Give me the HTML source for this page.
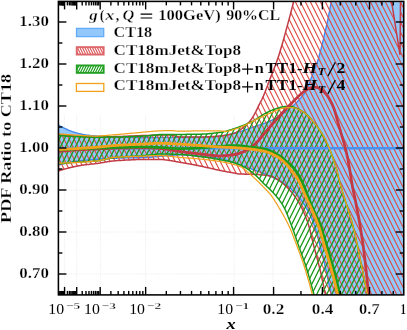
<!DOCTYPE html>
<html><head><meta charset="utf-8"><title>PDF ratio</title>
<style>
html,body{margin:0;padding:0;background:#fff;}
body{width:407px;height:330px;overflow:hidden;position:relative;font-family:"Liberation Serif",serif;}
svg text{font-family:"Liberation Serif",serif;}
</style></head><body>
<svg width="407" height="330" viewBox="0 0 407 330" style="position:absolute;left:0;top:0;will-change:transform">
<defs>
<clipPath id="cp"><rect x="58.4" y="1.4" width="345.4" height="293.5"/></clipPath>
</defs>
<line x1="64.55" y1="115" x2="64.55" y2="294.9" stroke="#dedede" stroke-width="0.7" stroke-dasharray="0.8 1.3"/>
<line x1="76.7" y1="115" x2="76.7" y2="294.9" stroke="#dedede" stroke-width="0.7" stroke-dasharray="0.8 1.3"/>
<line x1="100.4" y1="115" x2="100.4" y2="294.9" stroke="#dedede" stroke-width="0.7" stroke-dasharray="0.8 1.3"/>
<line x1="145.6" y1="115" x2="145.6" y2="294.9" stroke="#dedede" stroke-width="0.7" stroke-dasharray="0.8 1.3"/>
<line x1="234" y1="115" x2="234" y2="294.9" stroke="#dedede" stroke-width="0.7" stroke-dasharray="0.8 1.3"/>
<line x1="273" y1="115" x2="273" y2="294.9" stroke="#dedede" stroke-width="0.7" stroke-dasharray="0.8 1.3"/>
<line x1="322.3" y1="115" x2="322.3" y2="294.9" stroke="#dedede" stroke-width="0.7" stroke-dasharray="0.8 1.3"/>
<line x1="369.4" y1="115" x2="369.4" y2="294.9" stroke="#dedede" stroke-width="0.7" stroke-dasharray="0.8 1.3"/>
<line x1="58.4" y1="190" x2="403.75" y2="190" stroke="#dedede" stroke-width="0.7" stroke-dasharray="0.8 1.3"/>
<line x1="58.4" y1="232" x2="403.75" y2="232" stroke="#dedede" stroke-width="0.7" stroke-dasharray="0.8 1.3"/>
<line x1="58.4" y1="274" x2="403.75" y2="274" stroke="#dedede" stroke-width="0.7" stroke-dasharray="0.8 1.3"/>
<g clip-path="url(#cp)">
<path d="M58.5 124.9 L59.4 125.5 L60.2 126.0 L61.1 126.5 L62.0 127.0 L62.8 127.4 L63.7 127.9 L64.6 128.3 L65.4 128.7 L66.3 129.1 L67.2 129.5 L68.0 129.9 L68.9 130.3 L69.8 130.6 L70.6 130.9 L71.5 131.3 L72.4 131.6 L73.2 131.9 L74.1 132.1 L75.0 132.4 L75.8 132.6 L76.7 132.9 L77.6 133.1 L78.4 133.4 L79.3 133.6 L80.1 133.8 L81.0 134.0 L81.9 134.2 L82.7 134.4 L83.6 134.6 L84.5 134.7 L85.3 134.9 L86.2 135.0 L87.1 135.1 L87.9 135.2 L88.8 135.3 L89.7 135.4 L90.5 135.5 L91.4 135.6 L92.3 135.7 L93.1 135.8 L94.0 135.8 L94.9 135.9 L95.7 136.0 L96.6 136.0 L97.5 136.1 L98.3 136.2 L99.2 136.2 L100.1 136.3 L100.9 136.3 L101.8 136.4 L102.7 136.4 L103.5 136.5 L104.4 136.6 L105.3 136.6 L106.1 136.6 L107.0 136.7 L107.9 136.7 L108.7 136.8 L109.6 136.8 L110.5 136.8 L111.3 136.9 L112.2 136.9 L113.1 136.9 L113.9 137.0 L114.8 137.0 L115.7 137.0 L116.5 137.0 L117.4 137.1 L118.2 137.1 L119.1 137.1 L120.0 137.1 L120.8 137.1 L121.7 137.2 L122.6 137.2 L123.4 137.2 L124.3 137.2 L125.2 137.3 L126.0 137.3 L126.9 137.3 L127.8 137.3 L128.6 137.3 L129.5 137.3 L130.4 137.4 L131.2 137.4 L132.1 137.4 L133.0 137.4 L133.8 137.4 L134.7 137.4 L135.6 137.4 L136.4 137.4 L137.3 137.5 L138.2 137.5 L139.0 137.5 L139.9 137.5 L140.8 137.5 L141.6 137.5 L142.5 137.5 L143.4 137.5 L144.2 137.5 L145.1 137.5 L146.0 137.5 L146.8 137.5 L147.7 137.5 L148.6 137.5 L149.4 137.5 L150.3 137.5 L151.2 137.5 L152.0 137.5 L152.9 137.5 L153.8 137.5 L154.6 137.5 L155.5 137.5 L156.3 137.5 L157.2 137.5 L158.1 137.5 L158.9 137.5 L159.8 137.4 L160.7 137.4 L161.5 137.4 L162.4 137.4 L163.3 137.4 L164.1 137.4 L165.0 137.4 L165.9 137.4 L166.7 137.4 L167.6 137.4 L168.5 137.4 L169.3 137.4 L170.2 137.4 L171.1 137.4 L171.9 137.4 L172.8 137.4 L173.7 137.3 L174.5 137.3 L175.4 137.3 L176.3 137.3 L177.1 137.3 L178.0 137.3 L178.9 137.3 L179.7 137.3 L180.6 137.3 L181.5 137.3 L182.3 137.3 L183.2 137.3 L184.1 137.3 L184.9 137.3 L185.8 137.3 L186.7 137.3 L187.5 137.3 L188.4 137.2 L189.3 137.2 L190.1 137.2 L191.0 137.2 L191.9 137.2 L192.7 137.2 L193.6 137.2 L194.4 137.2 L195.3 137.2 L196.2 137.2 L197.0 137.2 L197.9 137.2 L198.8 137.2 L199.6 137.2 L200.5 137.1 L201.4 137.1 L202.2 137.1 L203.1 137.1 L204.0 137.1 L204.8 137.1 L205.7 137.1 L206.6 137.1 L207.4 137.0 L208.3 137.0 L209.2 137.0 L210.0 137.0 L210.9 137.0 L211.8 136.9 L212.6 136.9 L213.5 136.8 L214.4 136.7 L215.2 136.7 L216.1 136.6 L217.0 136.5 L217.8 136.4 L218.7 136.2 L219.6 136.1 L220.4 136.0 L221.3 135.9 L222.2 135.7 L223.0 135.6 L223.9 135.5 L224.8 135.3 L225.6 135.2 L226.5 135.0 L227.4 134.9 L228.2 134.7 L229.1 134.5 L230.0 134.3 L230.8 134.1 L231.7 133.9 L232.5 133.6 L233.4 133.4 L234.3 133.2 L235.1 132.9 L236.0 132.7 L236.9 132.4 L237.7 132.2 L238.6 131.9 L239.5 131.7 L240.3 131.4 L241.2 131.1 L242.1 130.9 L242.9 130.6 L243.8 130.3 L244.7 130.0 L245.5 129.7 L246.4 129.4 L247.3 129.1 L248.1 128.8 L249.0 128.5 L249.9 128.2 L250.7 127.9 L251.6 127.5 L252.5 127.2 L253.3 126.9 L254.2 126.6 L255.1 126.3 L255.9 126.0 L256.8 125.7 L257.7 125.4 L258.5 125.2 L259.4 124.9 L260.3 124.6 L261.1 124.4 L262.0 124.1 L262.9 123.8 L263.7 123.5 L264.6 123.2 L265.5 122.9 L266.3 122.6 L267.2 122.2 L268.1 121.9 L268.9 121.5 L269.8 121.1 L270.6 120.7 L271.5 120.3 L272.4 119.9 L273.2 119.4 L274.1 119.0 L275.0 118.5 L275.8 118.1 L276.7 117.6 L277.6 117.1 L278.4 116.6 L279.3 116.1 L280.2 115.5 L281.0 115.0 L281.9 114.4 L282.8 113.8 L283.6 113.2 L284.5 112.6 L285.4 112.0 L286.2 111.3 L287.1 110.7 L288.0 110.0 L288.8 109.3 L289.7 108.6 L290.6 107.9 L291.4 107.2 L292.3 106.4 L293.2 105.7 L294.0 104.9 L294.9 104.1 L295.8 103.2 L296.6 102.4 L297.5 101.5 L298.4 100.6 L299.2 99.6 L300.1 98.6 L301.0 97.7 L301.8 96.6 L302.7 95.6 L303.6 94.6 L304.4 93.5 L305.3 92.2 L306.2 90.6 L307.0 88.8 L307.9 86.8 L308.7 84.6 L309.6 82.4 L310.5 80.1 L311.3 77.8 L312.2 75.5 L313.1 73.3 L313.9 71.2 L314.8 69.0 L315.7 66.7 L316.5 64.3 L317.4 61.8 L318.3 59.1 L319.1 56.1 L320.0 52.9 L320.9 49.5 L321.7 46.1 L322.6 42.5 L323.5 38.9 L324.3 35.1 L325.2 31.3 L326.1 27.5 L326.9 23.7 L327.8 19.8 L328.7 15.7 L329.5 11.2 L330.4 6.4 L331.3 1.4 L332.1 -4.4 L333.0 -11.1 L333.9 -14.9 L334.7 -15.0 L335.6 -15.0 L336.5 -15.0 L337.3 -15.0 L338.2 -15.0 L339.1 -15.0 L339.9 -15.0 L340.8 -15.0 L341.7 -15.0 L342.5 -15.0 L343.4 -15.0 L344.3 -15.0 L345.1 -15.0 L346.0 -15.0 L346.8 -15.0 L347.7 -15.0 L348.6 -15.0 L349.4 -15.0 L350.3 -15.0 L351.2 -15.0 L352.0 -15.0 L352.9 -15.0 L353.8 -15.0 L354.6 -15.0 L355.5 -15.0 L356.4 -15.0 L357.2 -15.0 L358.1 -15.0 L359.0 -15.0 L359.8 -15.0 L360.7 -15.0 L361.6 -15.0 L362.4 -15.0 L363.3 -15.0 L364.2 -15.0 L365.0 -15.0 L365.9 -15.0 L366.8 -15.0 L367.6 -15.0 L368.5 -15.0 L369.4 -15.0 L370.2 -15.0 L371.1 -15.0 L372.0 -15.0 L372.8 -15.0 L373.7 -15.0 L374.6 -15.0 L375.4 -15.0 L376.3 -15.0 L377.2 -15.0 L378.0 -15.0 L378.9 -15.0 L379.8 -15.0 L380.6 -15.0 L381.5 -15.0 L382.4 -15.0 L383.2 -15.0 L384.1 -15.0 L384.9 -15.0 L385.8 -15.0 L386.7 -15.0 L387.5 -15.0 L388.4 -15.0 L389.3 -15.0 L390.1 -15.0 L391.0 -15.0 L391.9 -15.0 L392.7 -15.0 L393.6 -15.0 L394.5 -15.0 L395.3 -15.0 L396.2 -15.0 L397.1 -15.0 L397.9 -15.0 L398.8 -15.0 L399.7 -15.0 L400.5 -15.0 L401.4 -15.0 L402.3 -15.0 L403.1 -15.0 L404.0 -15.0 L404.0 305.0 L403.1 305.0 L402.3 305.0 L401.4 305.0 L400.5 305.0 L399.7 305.0 L398.8 305.0 L397.9 305.0 L397.1 305.0 L396.2 305.0 L395.3 305.0 L394.5 305.0 L393.6 305.0 L392.7 305.0 L391.9 305.0 L391.0 305.0 L390.1 305.0 L389.3 305.0 L388.4 305.0 L387.5 305.0 L386.7 305.0 L385.8 305.0 L384.9 305.0 L384.1 305.0 L383.2 305.0 L382.4 305.0 L381.5 305.0 L380.6 305.0 L379.8 305.0 L378.9 305.0 L378.0 305.0 L377.2 305.0 L376.3 305.0 L375.4 305.0 L374.6 305.0 L373.7 305.0 L372.8 305.0 L372.0 305.0 L371.1 305.0 L370.2 305.0 L369.4 305.0 L368.5 305.0 L367.6 305.0 L366.8 305.0 L365.9 305.0 L365.0 305.0 L364.2 305.0 L363.3 305.0 L362.4 305.0 L361.6 305.0 L360.7 305.0 L359.8 305.0 L359.0 305.0 L358.1 305.0 L357.2 305.0 L356.4 305.0 L355.5 305.0 L354.6 305.0 L353.8 305.0 L352.9 305.0 L352.0 305.0 L351.2 305.0 L350.3 305.0 L349.4 305.0 L348.6 305.0 L347.7 305.0 L346.8 305.0 L346.0 305.0 L345.1 305.0 L344.3 305.0 L343.4 305.0 L342.5 305.0 L341.7 305.0 L340.8 305.0 L339.9 305.0 L339.1 305.0 L338.2 305.0 L337.3 305.0 L336.5 305.0 L335.6 305.0 L334.7 305.0 L333.9 305.0 L333.0 303.7 L332.1 299.8 L331.3 294.9 L330.4 290.8 L329.5 286.8 L328.7 282.8 L327.8 278.7 L326.9 274.6 L326.1 270.7 L325.2 266.9 L324.3 263.2 L323.5 259.5 L322.6 255.9 L321.7 252.4 L320.9 249.0 L320.0 245.7 L319.1 242.3 L318.3 239.0 L317.4 235.8 L316.5 232.6 L315.7 229.6 L314.8 226.9 L313.9 224.3 L313.1 222.0 L312.2 219.9 L311.3 217.9 L310.5 216.0 L309.6 214.2 L308.7 212.5 L307.9 210.9 L307.0 209.3 L306.2 207.9 L305.3 206.4 L304.4 205.0 L303.6 203.7 L302.7 202.4 L301.8 201.1 L301.0 199.9 L300.1 198.7 L299.2 197.6 L298.4 196.5 L297.5 195.5 L296.6 194.6 L295.8 193.7 L294.9 192.8 L294.0 191.9 L293.2 191.0 L292.3 190.2 L291.4 189.3 L290.6 188.5 L289.7 187.8 L288.8 187.0 L288.0 186.3 L287.1 185.6 L286.2 185.0 L285.4 184.3 L284.5 183.8 L283.6 183.2 L282.8 182.6 L281.9 182.1 L281.0 181.6 L280.2 181.1 L279.3 180.6 L278.4 180.1 L277.6 179.7 L276.7 179.2 L275.8 178.8 L275.0 178.4 L274.1 178.0 L273.2 177.6 L272.4 177.1 L271.5 176.8 L270.6 176.4 L269.8 176.0 L268.9 175.6 L268.1 175.2 L267.2 174.9 L266.3 174.5 L265.5 174.2 L264.6 173.8 L263.7 173.5 L262.9 173.2 L262.0 172.9 L261.1 172.5 L260.3 172.2 L259.4 171.9 L258.5 171.6 L257.7 171.3 L256.8 171.0 L255.9 170.6 L255.1 170.3 L254.2 170.0 L253.3 169.7 L252.5 169.4 L251.6 169.0 L250.7 168.7 L249.9 168.4 L249.0 168.1 L248.1 167.8 L247.3 167.4 L246.4 167.1 L245.5 166.8 L244.7 166.5 L243.8 166.2 L242.9 165.9 L242.1 165.6 L241.2 165.2 L240.3 164.9 L239.5 164.6 L238.6 164.3 L237.7 164.0 L236.9 163.7 L236.0 163.3 L235.1 163.0 L234.3 162.8 L233.4 162.5 L232.5 162.2 L231.7 161.9 L230.8 161.6 L230.0 161.2 L229.1 160.9 L228.2 160.7 L227.4 160.4 L226.5 160.1 L225.6 159.8 L224.8 159.6 L223.9 159.3 L223.0 159.1 L222.2 158.9 L221.3 158.7 L220.4 158.6 L219.6 158.4 L218.7 158.3 L217.8 158.2 L217.0 158.1 L216.1 158.0 L215.2 157.9 L214.4 157.8 L213.5 157.7 L212.6 157.6 L211.8 157.5 L210.9 157.4 L210.0 157.3 L209.2 157.3 L208.3 157.2 L207.4 157.1 L206.6 157.1 L205.7 157.0 L204.8 156.9 L204.0 156.8 L203.1 156.8 L202.2 156.7 L201.4 156.6 L200.5 156.5 L199.6 156.5 L198.8 156.4 L197.9 156.3 L197.0 156.2 L196.2 156.1 L195.3 156.0 L194.4 155.9 L193.6 155.8 L192.7 155.7 L191.9 155.6 L191.0 155.5 L190.1 155.4 L189.3 155.3 L188.4 155.3 L187.5 155.2 L186.7 155.1 L185.8 155.0 L184.9 155.0 L184.1 154.9 L183.2 154.9 L182.3 154.8 L181.5 154.8 L180.6 154.8 L179.7 154.8 L178.9 154.8 L178.0 154.8 L177.1 154.9 L176.3 155.0 L175.4 155.0 L174.5 155.1 L173.7 155.2 L172.8 155.3 L171.9 155.3 L171.1 155.4 L170.2 155.5 L169.3 155.5 L168.5 155.6 L167.6 155.7 L166.7 155.8 L165.9 155.8 L165.0 155.9 L164.1 156.0 L163.3 156.1 L162.4 156.2 L161.5 156.2 L160.7 156.3 L159.8 156.4 L158.9 156.5 L158.1 156.6 L157.2 156.6 L156.3 156.7 L155.5 156.8 L154.6 156.9 L153.8 156.9 L152.9 157.0 L152.0 157.1 L151.2 157.2 L150.3 157.2 L149.4 157.3 L148.6 157.3 L147.7 157.4 L146.8 157.4 L146.0 157.5 L145.1 157.5 L144.2 157.5 L143.4 157.6 L142.5 157.6 L141.6 157.6 L140.8 157.6 L139.9 157.7 L139.0 157.7 L138.2 157.7 L137.3 157.7 L136.4 157.7 L135.6 157.8 L134.7 157.8 L133.8 157.8 L133.0 157.8 L132.1 157.8 L131.2 157.8 L130.4 157.9 L129.5 157.9 L128.6 157.9 L127.8 157.9 L126.9 157.9 L126.0 157.9 L125.2 157.9 L124.3 158.0 L123.4 158.0 L122.6 158.0 L121.7 158.0 L120.8 158.0 L120.0 158.1 L119.1 158.1 L118.2 158.1 L117.4 158.1 L116.5 158.2 L115.7 158.2 L114.8 158.2 L113.9 158.2 L113.1 158.3 L112.2 158.3 L111.3 158.3 L110.5 158.4 L109.6 158.4 L108.7 158.5 L107.9 158.5 L107.0 158.6 L106.1 158.6 L105.3 158.7 L104.4 158.7 L103.5 158.8 L102.7 158.8 L101.8 158.9 L100.9 158.9 L100.1 159.0 L99.2 159.1 L98.3 159.1 L97.5 159.2 L96.6 159.3 L95.7 159.3 L94.9 159.4 L94.0 159.5 L93.1 159.5 L92.3 159.6 L91.4 159.7 L90.5 159.7 L89.7 159.8 L88.8 159.9 L87.9 160.0 L87.1 160.1 L86.2 160.1 L85.3 160.2 L84.5 160.3 L83.6 160.4 L82.7 160.5 L81.9 160.6 L81.0 160.7 L80.1 160.8 L79.3 160.9 L78.4 161.0 L77.6 161.2 L76.7 161.3 L75.8 161.4 L75.0 161.5 L74.1 161.6 L73.2 161.8 L72.4 161.9 L71.5 162.1 L70.6 162.2 L69.8 162.4 L68.9 162.6 L68.0 162.7 L67.2 162.9 L66.3 163.1 L65.4 163.3 L64.6 163.5 L63.7 163.7 L62.8 163.9 L62.0 164.1 L61.1 164.3 L60.2 164.6 L59.4 164.8 L58.5 165.0Z" fill="#93c8fb" stroke="#4288ee" stroke-width="1.4"/>
<clipPath id="cr"><path d="M58.5 134.8 L59.1 134.9 L59.7 134.9 L60.3 134.9 L60.9 135.0 L61.5 135.0 L62.1 135.1 L62.7 135.1 L63.3 135.2 L63.9 135.2 L64.5 135.3 L65.1 135.3 L65.7 135.4 L66.3 135.4 L66.9 135.5 L67.5 135.5 L68.1 135.5 L68.7 135.6 L69.3 135.6 L69.9 135.7 L70.5 135.7 L71.1 135.8 L71.7 135.8 L72.3 135.8 L72.9 135.9 L73.5 135.9 L74.1 135.9 L74.7 136.0 L75.3 136.0 L75.9 136.1 L76.5 136.1 L77.1 136.1 L77.7 136.2 L78.3 136.2 L78.9 136.2 L79.5 136.3 L80.1 136.3 L80.7 136.4 L81.3 136.4 L81.9 136.4 L82.5 136.5 L83.1 136.5 L83.7 136.5 L84.3 136.6 L84.9 136.6 L85.5 136.6 L86.1 136.7 L86.7 136.7 L87.3 136.7 L87.9 136.8 L88.4 136.8 L89.0 136.8 L89.6 136.9 L90.2 136.9 L90.8 136.9 L91.4 136.9 L92.0 136.9 L92.6 137.0 L93.2 137.0 L93.8 137.0 L94.4 137.0 L95.0 137.0 L95.6 137.0 L96.2 137.0 L96.8 137.0 L97.4 137.0 L98.0 137.0 L98.6 137.0 L99.2 137.0 L99.8 137.0 L100.4 137.0 L101.0 137.0 L101.6 136.9 L102.2 136.9 L102.8 136.9 L103.4 136.9 L104.0 136.9 L104.6 136.9 L105.2 136.9 L105.8 136.9 L106.4 136.8 L107.0 136.8 L107.6 136.8 L108.2 136.8 L108.8 136.8 L109.4 136.8 L110.0 136.7 L110.6 136.7 L111.2 136.7 L111.8 136.7 L112.4 136.7 L113.0 136.7 L113.6 136.6 L114.2 136.6 L114.8 136.6 L115.4 136.6 L116.0 136.6 L116.6 136.6 L117.2 136.5 L117.8 136.5 L118.4 136.5 L119.0 136.5 L119.6 136.5 L120.2 136.4 L120.8 136.4 L121.4 136.4 L122.0 136.4 L122.6 136.4 L123.2 136.3 L123.8 136.3 L124.4 136.3 L125.0 136.3 L125.6 136.2 L126.2 136.2 L126.8 136.2 L127.4 136.2 L128.0 136.1 L128.6 136.1 L129.2 136.1 L129.8 136.1 L130.4 136.0 L131.0 136.0 L131.6 136.0 L132.2 136.0 L132.8 135.9 L133.4 135.9 L134.0 135.9 L134.6 135.9 L135.2 135.8 L135.8 135.8 L136.4 135.8 L137.0 135.8 L137.6 135.7 L138.2 135.7 L138.8 135.7 L139.4 135.7 L140.0 135.7 L140.6 135.6 L141.2 135.6 L141.8 135.6 L142.4 135.6 L143.0 135.6 L143.6 135.5 L144.2 135.5 L144.8 135.5 L145.4 135.5 L146.0 135.5 L146.6 135.5 L147.2 135.4 L147.8 135.4 L148.3 135.4 L148.9 135.4 L149.5 135.4 L150.1 135.4 L150.7 135.3 L151.3 135.3 L151.9 135.3 L152.5 135.3 L153.1 135.3 L153.7 135.3 L154.3 135.2 L154.9 135.2 L155.5 135.2 L156.1 135.2 L156.7 135.2 L157.3 135.2 L157.9 135.2 L158.5 135.1 L159.1 135.1 L159.7 135.1 L160.3 135.1 L160.9 135.1 L161.5 135.1 L162.1 135.1 L162.7 135.1 L163.3 135.1 L163.9 135.0 L164.5 135.0 L165.1 135.0 L165.7 135.0 L166.3 135.0 L166.9 135.0 L167.5 135.0 L168.1 135.0 L168.7 135.0 L169.3 135.0 L169.9 135.0 L170.5 135.0 L171.1 135.1 L171.7 135.2 L172.3 135.3 L172.9 135.4 L173.5 135.6 L174.1 135.7 L174.7 135.9 L175.3 136.1 L175.9 136.3 L176.5 136.4 L177.1 136.6 L177.7 136.7 L178.3 136.8 L178.9 136.9 L179.5 137.0 L180.1 137.0 L180.7 137.0 L181.3 137.0 L181.9 137.0 L182.5 137.0 L183.1 137.0 L183.7 137.0 L184.3 137.0 L184.9 137.0 L185.5 137.0 L186.1 137.0 L186.7 137.0 L187.3 137.0 L187.9 137.0 L188.5 137.0 L189.1 137.0 L189.7 137.0 L190.3 137.0 L190.9 137.0 L191.5 137.0 L192.1 137.0 L192.7 137.0 L193.3 137.0 L193.9 137.0 L194.5 137.0 L195.1 137.0 L195.7 137.0 L196.3 137.0 L196.9 137.0 L197.5 137.0 L198.1 137.0 L198.7 137.0 L199.3 137.0 L199.9 137.0 L200.5 137.0 L201.1 137.0 L201.7 137.0 L202.3 137.0 L202.9 137.0 L203.5 137.0 L204.1 136.9 L204.7 136.9 L205.3 136.9 L205.9 136.9 L206.5 136.9 L207.1 136.8 L207.7 136.8 L208.2 136.8 L208.8 136.8 L209.4 136.7 L210.0 136.7 L210.6 136.7 L211.2 136.6 L211.8 136.6 L212.4 136.6 L213.0 136.5 L213.6 136.5 L214.2 136.4 L214.8 136.4 L215.4 136.4 L216.0 136.3 L216.6 136.3 L217.2 136.2 L217.8 136.2 L218.4 136.1 L219.0 136.1 L219.6 136.0 L220.2 136.0 L220.8 135.9 L221.4 135.9 L222.0 135.8 L222.6 135.7 L223.2 135.7 L223.8 135.6 L224.4 135.5 L225.0 135.4 L225.6 135.3 L226.2 135.2 L226.8 135.1 L227.4 135.0 L228.0 134.8 L228.6 134.7 L229.2 134.6 L229.8 134.4 L230.4 134.3 L231.0 134.1 L231.6 134.0 L232.2 133.8 L232.8 133.7 L233.4 133.5 L234.0 133.3 L234.6 133.1 L235.2 132.9 L235.8 132.6 L236.4 132.3 L237.0 132.0 L237.6 131.6 L238.2 131.2 L238.8 130.8 L239.4 130.4 L240.0 130.0 L240.6 129.5 L241.2 129.0 L241.8 128.6 L242.4 128.1 L243.0 127.6 L243.6 127.1 L244.2 126.6 L244.8 126.1 L245.4 125.6 L246.0 125.1 L246.6 124.6 L247.2 124.0 L247.8 123.4 L248.4 122.8 L249.0 122.2 L249.6 121.5 L250.2 120.8 L250.8 120.0 L251.4 119.2 L252.0 118.3 L252.6 117.4 L253.2 116.4 L253.8 115.4 L254.4 114.3 L255.0 113.2 L255.6 112.1 L256.2 110.9 L256.8 109.7 L257.4 108.4 L258.0 107.2 L258.6 105.9 L259.2 104.7 L259.8 103.5 L260.4 102.3 L261.0 101.2 L261.6 100.0 L262.2 98.7 L262.8 97.4 L263.4 96.1 L264.0 94.6 L264.6 93.2 L265.2 91.7 L265.8 90.1 L266.4 88.6 L267.0 87.0 L267.6 85.4 L268.1 83.8 L268.7 82.3 L269.3 80.7 L269.9 79.1 L270.5 77.6 L271.1 76.1 L271.7 74.6 L272.3 73.1 L272.9 71.6 L273.5 70.1 L274.1 68.5 L274.7 67.0 L275.3 65.4 L275.9 63.8 L276.5 62.2 L277.1 60.5 L277.7 58.8 L278.3 57.0 L278.9 55.2 L279.5 53.3 L280.1 51.3 L280.7 49.3 L281.3 47.3 L281.9 45.3 L282.5 43.2 L283.1 41.1 L283.7 38.9 L284.3 36.8 L284.9 34.6 L285.5 32.4 L286.1 30.2 L286.7 28.0 L287.3 25.8 L287.9 23.6 L288.5 21.4 L289.1 19.2 L289.7 16.9 L290.3 14.6 L290.9 12.3 L291.5 10.0 L292.1 7.6 L292.7 5.2 L293.3 2.8 L293.9 0.4 L294.5 -2.1 L295.1 -4.6 L295.7 -7.1 L296.3 -9.7 L296.9 -12.4 L297.5 -15.0 L391.5 -15.0 L391.5 1.0 L400.0 55.0 L400.5 1.0 L400.5 -15.0 L404.5 -15.0 L404.5 305.0 L327.8 305.0 L327.1 302.0 L326.5 299.1 L325.8 296.1 L325.1 293.1 L324.4 290.0 L323.8 286.8 L323.1 283.6 L322.4 280.4 L321.7 277.2 L321.1 274.1 L320.4 271.1 L319.7 268.2 L319.0 265.5 L318.4 262.9 L317.7 260.3 L317.0 257.9 L316.3 255.4 L315.7 253.0 L315.0 250.5 L314.3 248.0 L313.6 245.3 L313.0 242.6 L312.3 239.8 L311.6 236.9 L310.9 234.1 L310.3 231.4 L309.6 228.8 L308.9 226.3 L308.2 224.1 L307.6 222.1 L306.9 220.1 L306.2 218.3 L305.5 216.5 L304.9 214.8 L304.2 213.2 L303.5 211.7 L302.8 210.2 L302.2 208.7 L301.5 207.3 L300.8 206.0 L300.1 204.7 L299.5 203.5 L298.8 202.3 L298.1 201.2 L297.4 200.1 L296.8 199.1 L296.1 198.1 L295.4 197.1 L294.7 196.2 L294.1 195.3 L293.4 194.4 L292.7 193.5 L292.0 192.7 L291.4 191.9 L290.7 191.2 L290.0 190.4 L289.3 189.7 L288.7 189.0 L288.0 188.2 L287.3 187.5 L286.6 186.9 L286.0 186.2 L285.3 185.6 L284.6 184.9 L283.9 184.3 L283.3 183.7 L282.6 183.2 L281.9 182.6 L281.2 182.1 L280.6 181.6 L279.9 181.1 L279.2 180.7 L278.5 180.2 L277.9 179.8 L277.2 179.4 L276.5 178.9 L275.8 178.5 L275.2 178.1 L274.5 177.7 L273.8 177.4 L273.1 177.0 L272.5 176.8 L271.8 176.5 L271.1 176.3 L270.4 176.1 L269.8 176.0 L269.1 175.8 L268.4 175.7 L267.7 175.6 L267.1 175.5 L266.4 175.4 L265.7 175.3 L265.0 175.2 L264.4 175.1 L263.7 175.1 L263.0 175.0 L262.3 174.9 L261.7 174.8 L261.0 174.8 L260.3 174.7 L259.6 174.7 L259.0 174.6 L258.3 174.6 L257.6 174.5 L256.9 174.5 L256.3 174.5 L255.6 174.4 L254.9 174.4 L254.2 174.4 L253.6 174.3 L252.9 174.3 L252.2 174.3 L251.5 174.3 L250.9 174.3 L250.2 174.3 L249.5 174.2 L248.8 174.2 L248.2 174.2 L247.5 174.2 L246.8 174.2 L246.1 174.2 L245.5 174.2 L244.8 174.2 L244.1 174.1 L243.4 174.1 L242.8 174.1 L242.1 174.1 L241.4 174.1 L240.7 174.0 L240.1 174.0 L239.4 174.0 L238.7 173.9 L238.0 173.8 L237.4 173.7 L236.7 173.5 L236.0 173.4 L235.3 173.3 L234.7 173.1 L234.0 173.0 L233.3 172.9 L232.6 172.8 L232.0 172.6 L231.3 172.5 L230.6 172.4 L229.9 172.3 L229.3 172.2 L228.6 172.0 L227.9 171.9 L227.2 171.8 L226.6 171.7 L225.9 171.5 L225.2 171.4 L224.5 171.3 L223.9 171.2 L223.2 171.0 L222.5 170.9 L221.8 170.8 L221.2 170.6 L220.5 170.5 L219.8 170.4 L219.1 170.2 L218.5 170.1 L217.8 169.9 L217.1 169.8 L216.4 169.7 L215.8 169.5 L215.1 169.4 L214.4 169.2 L213.7 169.1 L213.1 168.9 L212.4 168.7 L211.7 168.6 L211.0 168.4 L210.4 168.3 L209.7 168.1 L209.0 168.0 L208.3 167.8 L207.7 167.7 L207.0 167.5 L206.3 167.4 L205.6 167.2 L205.0 167.1 L204.3 166.9 L203.6 166.8 L202.9 166.6 L202.3 166.5 L201.6 166.3 L200.9 166.2 L200.2 166.0 L199.6 165.9 L198.9 165.8 L198.2 165.6 L197.5 165.5 L196.9 165.4 L196.2 165.2 L195.5 165.1 L194.8 165.0 L194.2 164.8 L193.5 164.7 L192.8 164.6 L192.1 164.5 L191.5 164.3 L190.8 164.2 L190.1 164.1 L189.4 163.9 L188.8 163.8 L188.1 163.7 L187.4 163.6 L186.7 163.4 L186.1 163.3 L185.4 163.2 L184.7 163.1 L184.0 163.0 L183.4 162.9 L182.7 162.7 L182.0 162.6 L181.3 162.5 L180.7 162.4 L180.0 162.3 L179.3 162.2 L178.6 162.1 L178.0 162.0 L177.3 161.8 L176.6 161.7 L175.9 161.6 L175.3 161.5 L174.6 161.3 L173.9 161.2 L173.2 161.1 L172.6 161.0 L171.9 160.8 L171.2 160.7 L170.5 160.6 L169.9 160.5 L169.2 160.4 L168.5 160.3 L167.8 160.2 L167.2 160.1 L166.5 160.0 L165.8 159.9 L165.1 159.8 L164.5 159.7 L163.8 159.7 L163.1 159.6 L162.4 159.6 L161.8 159.5 L161.1 159.5 L160.4 159.5 L159.7 159.5 L159.1 159.5 L158.4 159.5 L157.7 159.5 L157.0 159.5 L156.4 159.5 L155.7 159.5 L155.0 159.5 L154.3 159.5 L153.7 159.5 L153.0 159.5 L152.3 159.5 L151.6 159.5 L151.0 159.5 L150.3 159.5 L149.6 159.5 L148.9 159.5 L148.3 159.5 L147.6 159.5 L146.9 159.5 L146.2 159.5 L145.6 159.5 L144.9 159.5 L144.2 159.5 L143.5 159.5 L142.9 159.5 L142.2 159.5 L141.5 159.5 L140.8 159.5 L140.2 159.5 L139.5 159.6 L138.8 159.6 L138.1 159.6 L137.5 159.6 L136.8 159.6 L136.1 159.6 L135.4 159.7 L134.8 159.7 L134.1 159.7 L133.4 159.7 L132.7 159.8 L132.1 159.8 L131.4 159.8 L130.7 159.9 L130.0 159.9 L129.4 159.9 L128.7 160.0 L128.0 160.0 L127.3 160.0 L126.7 160.1 L126.0 160.1 L125.3 160.1 L124.6 160.2 L124.0 160.2 L123.3 160.3 L122.6 160.3 L121.9 160.3 L121.3 160.4 L120.6 160.4 L119.9 160.5 L119.2 160.5 L118.6 160.6 L117.9 160.6 L117.2 160.6 L116.5 160.7 L115.9 160.7 L115.2 160.8 L114.5 160.8 L113.8 160.9 L113.2 161.0 L112.5 161.0 L111.8 161.1 L111.1 161.2 L110.5 161.3 L109.8 161.4 L109.1 161.5 L108.4 161.6 L107.8 161.7 L107.1 161.8 L106.4 161.9 L105.7 162.0 L105.1 162.1 L104.4 162.3 L103.7 162.4 L103.0 162.5 L102.4 162.6 L101.7 162.7 L101.0 162.8 L100.3 163.0 L99.7 163.1 L99.0 163.2 L98.3 163.3 L97.6 163.4 L97.0 163.5 L96.3 163.6 L95.6 163.6 L94.9 163.7 L94.3 163.8 L93.6 163.9 L92.9 163.9 L92.2 164.0 L91.6 164.1 L90.9 164.1 L90.2 164.2 L89.5 164.3 L88.9 164.4 L88.2 164.4 L87.5 164.5 L86.8 164.6 L86.2 164.7 L85.5 164.7 L84.8 164.8 L84.1 164.9 L83.5 165.0 L82.8 165.1 L82.1 165.2 L81.4 165.3 L80.8 165.4 L80.1 165.5 L79.4 165.7 L78.7 165.8 L78.1 165.9 L77.4 166.0 L76.7 166.2 L76.0 166.3 L75.4 166.4 L74.7 166.6 L74.0 166.7 L73.3 166.9 L72.7 167.0 L72.0 167.2 L71.3 167.3 L70.6 167.5 L70.0 167.7 L69.3 167.8 L68.6 168.0 L67.9 168.2 L67.3 168.4 L66.6 168.6 L65.9 168.7 L65.2 168.9 L64.6 169.1 L63.9 169.3 L63.2 169.5 L62.5 169.7 L61.9 169.9 L61.2 170.1 L60.5 170.3 L59.8 170.6 L59.2 170.8 L58.5 171.0Z"/></clipPath>
<clipPath id="cg"><path d="M58.5 135.5 L59.3 135.6 L60.1 135.6 L60.8 135.7 L61.6 135.7 L62.4 135.8 L63.2 135.8 L64.0 135.9 L64.7 135.9 L65.5 136.0 L66.3 136.0 L67.1 136.1 L67.9 136.1 L68.6 136.2 L69.4 136.2 L70.2 136.3 L71.0 136.3 L71.8 136.3 L72.5 136.4 L73.3 136.4 L74.1 136.5 L74.9 136.5 L75.6 136.5 L76.4 136.6 L77.2 136.6 L78.0 136.6 L78.8 136.7 L79.5 136.7 L80.3 136.7 L81.1 136.8 L81.9 136.8 L82.7 136.8 L83.4 136.9 L84.2 136.9 L85.0 136.9 L85.8 137.0 L86.6 137.0 L87.3 137.0 L88.1 137.1 L88.9 137.1 L89.7 137.1 L90.5 137.1 L91.2 137.1 L92.0 137.2 L92.8 137.2 L93.6 137.2 L94.4 137.2 L95.1 137.2 L95.9 137.2 L96.7 137.2 L97.5 137.2 L98.3 137.2 L99.0 137.2 L99.8 137.2 L100.6 137.2 L101.4 137.2 L102.1 137.2 L102.9 137.2 L103.7 137.2 L104.5 137.1 L105.3 137.1 L106.0 137.1 L106.8 137.1 L107.6 137.1 L108.4 137.1 L109.2 137.1 L109.9 137.1 L110.7 137.1 L111.5 137.1 L112.3 137.0 L113.1 137.0 L113.8 137.0 L114.6 137.0 L115.4 137.0 L116.2 137.0 L117.0 137.0 L117.7 137.0 L118.5 136.9 L119.3 136.9 L120.1 136.9 L120.9 136.9 L121.6 136.9 L122.4 136.9 L123.2 136.8 L124.0 136.8 L124.8 136.8 L125.5 136.8 L126.3 136.8 L127.1 136.7 L127.9 136.7 L128.7 136.7 L129.4 136.7 L130.2 136.6 L131.0 136.6 L131.8 136.6 L132.5 136.5 L133.3 136.5 L134.1 136.5 L134.9 136.5 L135.7 136.4 L136.4 136.4 L137.2 136.4 L138.0 136.3 L138.8 136.3 L139.6 136.3 L140.3 136.2 L141.1 136.2 L141.9 136.2 L142.7 136.1 L143.5 136.1 L144.2 136.0 L145.0 136.0 L145.8 136.0 L146.6 135.9 L147.4 135.8 L148.1 135.7 L148.9 135.7 L149.7 135.6 L150.5 135.5 L151.3 135.4 L152.0 135.3 L152.8 135.2 L153.6 135.1 L154.4 135.0 L155.2 134.9 L155.9 134.9 L156.7 134.8 L157.5 134.7 L158.3 134.7 L159.0 134.6 L159.8 134.6 L160.6 134.6 L161.4 134.6 L162.2 134.6 L162.9 134.6 L163.7 134.5 L164.5 134.5 L165.3 134.5 L166.1 134.5 L166.8 134.5 L167.6 134.5 L168.4 134.5 L169.2 134.5 L170.0 134.5 L170.7 134.5 L171.5 134.5 L172.3 134.5 L173.1 134.5 L173.9 134.4 L174.6 134.4 L175.4 134.4 L176.2 134.4 L177.0 134.4 L177.8 134.4 L178.5 134.4 L179.3 134.4 L180.1 134.4 L180.9 134.4 L181.7 134.4 L182.4 134.4 L183.2 134.4 L184.0 134.4 L184.8 134.4 L185.6 134.4 L186.3 134.3 L187.1 134.3 L187.9 134.3 L188.7 134.3 L189.4 134.3 L190.2 134.3 L191.0 134.3 L191.8 134.3 L192.6 134.3 L193.3 134.3 L194.1 134.3 L194.9 134.3 L195.7 134.3 L196.5 134.3 L197.2 134.2 L198.0 134.2 L198.8 134.2 L199.6 134.2 L200.4 134.2 L201.1 134.2 L201.9 134.1 L202.7 134.1 L203.5 134.1 L204.3 134.0 L205.0 134.0 L205.8 133.9 L206.6 133.9 L207.4 133.8 L208.2 133.8 L208.9 133.7 L209.7 133.6 L210.5 133.6 L211.3 133.5 L212.1 133.4 L212.8 133.3 L213.6 133.2 L214.4 133.1 L215.2 133.0 L215.9 132.9 L216.7 132.8 L217.5 132.7 L218.3 132.6 L219.1 132.5 L219.8 132.4 L220.6 132.3 L221.4 132.2 L222.2 132.0 L223.0 131.9 L223.7 131.7 L224.5 131.6 L225.3 131.4 L226.1 131.2 L226.9 131.0 L227.6 130.7 L228.4 130.5 L229.2 130.3 L230.0 130.1 L230.8 129.8 L231.5 129.6 L232.3 129.3 L233.1 129.0 L233.9 128.8 L234.7 128.5 L235.4 128.2 L236.2 127.9 L237.0 127.7 L237.8 127.4 L238.6 127.1 L239.3 126.8 L240.1 126.6 L240.9 126.3 L241.7 126.0 L242.4 125.7 L243.2 125.4 L244.0 125.1 L244.8 124.8 L245.6 124.4 L246.3 124.1 L247.1 123.8 L247.9 123.4 L248.7 123.0 L249.5 122.7 L250.2 122.3 L251.0 121.9 L251.8 121.5 L252.6 121.2 L253.4 120.8 L254.1 120.4 L254.9 119.9 L255.7 119.5 L256.5 119.0 L257.3 118.5 L258.0 118.0 L258.8 117.5 L259.6 117.0 L260.4 116.4 L261.2 115.9 L261.9 115.3 L262.7 114.8 L263.5 114.3 L264.3 113.9 L265.1 113.5 L265.8 113.1 L266.6 112.6 L267.4 112.2 L268.2 111.9 L269.0 111.5 L269.7 111.1 L270.5 110.7 L271.3 110.4 L272.1 110.1 L272.8 109.8 L273.6 109.5 L274.4 109.2 L275.2 108.9 L276.0 108.7 L276.7 108.4 L277.5 108.2 L278.3 107.9 L279.1 107.7 L279.9 107.5 L280.6 107.3 L281.4 107.1 L282.2 106.9 L283.0 106.8 L283.8 106.7 L284.5 106.6 L285.3 106.5 L286.1 106.5 L286.9 106.4 L287.7 106.4 L288.4 106.3 L289.2 106.3 L290.0 106.3 L290.8 106.4 L291.6 106.5 L292.3 106.7 L293.1 107.0 L293.9 107.2 L294.7 107.5 L295.5 107.8 L296.2 108.1 L297.0 108.4 L297.8 108.8 L298.6 109.1 L299.3 109.5 L300.1 110.0 L300.9 110.4 L301.7 110.9 L302.5 111.4 L303.2 111.9 L304.0 112.4 L304.8 113.0 L305.6 113.5 L306.4 114.2 L307.1 114.9 L307.9 115.6 L308.7 116.4 L309.5 117.3 L310.3 118.1 L311.0 119.1 L311.8 120.0 L312.6 120.9 L313.4 121.9 L314.2 122.9 L314.9 123.8 L315.7 124.8 L316.5 125.8 L317.3 126.8 L318.1 127.8 L318.8 128.9 L319.6 130.0 L320.4 131.1 L321.2 132.3 L322.0 133.5 L322.7 134.8 L323.5 136.1 L324.3 137.5 L325.1 139.0 L325.9 140.6 L326.6 142.2 L327.4 143.9 L328.2 145.7 L329.0 147.5 L329.7 149.3 L330.5 151.3 L331.3 153.4 L332.1 155.6 L332.9 157.8 L333.6 160.1 L334.4 162.5 L335.2 164.9 L336.0 167.4 L336.8 170.1 L337.5 172.9 L338.3 176.3 L339.1 179.8 L339.9 182.9 L340.7 185.7 L341.4 188.3 L342.2 190.9 L343.0 193.4 L343.8 195.9 L344.6 198.3 L345.3 200.8 L346.1 203.3 L346.9 205.9 L347.7 208.4 L348.5 210.9 L349.2 213.3 L350.0 215.8 L350.8 218.4 L351.6 221.0 L352.4 223.8 L353.1 226.7 L353.9 229.8 L354.7 233.1 L355.5 236.6 L356.2 240.2 L357.0 243.9 L357.8 247.6 L358.6 251.4 L359.4 255.2 L360.1 258.9 L360.9 262.6 L361.7 266.4 L362.5 270.2 L363.3 274.1 L364.0 277.9 L364.8 281.8 L365.6 285.7 L366.4 289.5 L367.2 293.4 L367.9 297.3 L368.7 301.1 L369.5 305.0 L316.6 305.0 L316.0 302.4 L315.3 299.9 L314.7 297.4 L314.0 294.9 L313.4 292.5 L312.7 290.1 L312.1 287.7 L311.4 285.3 L310.8 282.9 L310.1 280.6 L309.5 278.3 L308.8 276.0 L308.2 273.8 L307.5 271.7 L306.9 269.5 L306.3 267.5 L305.6 265.5 L305.0 263.6 L304.3 261.7 L303.7 259.8 L303.0 258.0 L302.4 256.2 L301.7 254.4 L301.1 252.6 L300.4 250.8 L299.8 249.0 L299.1 247.2 L298.5 245.3 L297.8 243.5 L297.2 241.6 L296.5 239.7 L295.9 237.8 L295.3 236.0 L294.6 234.1 L294.0 232.3 L293.3 230.4 L292.7 228.6 L292.0 226.9 L291.4 225.2 L290.7 223.5 L290.1 221.8 L289.4 220.1 L288.8 218.4 L288.1 216.8 L287.5 215.1 L286.8 213.5 L286.2 212.0 L285.6 210.5 L284.9 209.2 L284.3 207.9 L283.6 206.7 L283.0 205.5 L282.3 204.4 L281.7 203.4 L281.0 202.4 L280.4 201.5 L279.7 200.6 L279.1 199.7 L278.4 198.8 L277.8 198.0 L277.1 197.2 L276.5 196.4 L275.8 195.6 L275.2 194.9 L274.6 194.2 L273.9 193.5 L273.3 192.8 L272.6 192.1 L272.0 191.5 L271.3 190.8 L270.7 190.2 L270.0 189.5 L269.4 188.9 L268.7 188.3 L268.1 187.6 L267.4 187.0 L266.8 186.4 L266.1 185.8 L265.5 185.2 L264.9 184.6 L264.2 184.0 L263.6 183.4 L262.9 182.7 L262.3 182.0 L261.6 181.4 L261.0 180.7 L260.3 180.0 L259.7 179.3 L259.0 178.6 L258.4 177.9 L257.7 177.3 L257.1 176.6 L256.4 176.0 L255.8 175.4 L255.1 174.8 L254.5 174.3 L253.9 173.7 L253.2 173.2 L252.6 172.7 L251.9 172.2 L251.3 171.7 L250.6 171.2 L250.0 170.7 L249.3 170.2 L248.7 169.8 L248.0 169.3 L247.4 168.9 L246.7 168.5 L246.1 168.1 L245.4 167.7 L244.8 167.4 L244.2 167.0 L243.5 166.7 L242.9 166.4 L242.2 166.0 L241.6 165.7 L240.9 165.4 L240.3 165.1 L239.6 164.8 L239.0 164.5 L238.3 164.2 L237.7 164.0 L237.0 163.7 L236.4 163.5 L235.7 163.3 L235.1 163.0 L234.4 162.8 L233.8 162.6 L233.2 162.5 L232.5 162.3 L231.9 162.1 L231.2 162.0 L230.6 161.8 L229.9 161.6 L229.3 161.5 L228.6 161.4 L228.0 161.2 L227.3 161.1 L226.7 161.0 L226.0 160.8 L225.4 160.7 L224.7 160.6 L224.1 160.5 L223.5 160.3 L222.8 160.2 L222.2 160.1 L221.5 160.0 L220.9 159.9 L220.2 159.7 L219.6 159.6 L218.9 159.5 L218.3 159.4 L217.6 159.3 L217.0 159.1 L216.3 159.0 L215.7 158.9 L215.0 158.8 L214.4 158.7 L213.7 158.6 L213.1 158.5 L212.5 158.4 L211.8 158.2 L211.2 158.1 L210.5 158.0 L209.9 157.9 L209.2 157.8 L208.6 157.7 L207.9 157.6 L207.3 157.5 L206.6 157.4 L206.0 157.3 L205.3 157.2 L204.7 157.1 L204.0 157.0 L203.4 156.9 L202.8 156.9 L202.1 156.8 L201.5 156.7 L200.8 156.6 L200.2 156.5 L199.5 156.4 L198.9 156.4 L198.2 156.3 L197.6 156.2 L196.9 156.1 L196.3 156.0 L195.6 156.0 L195.0 155.9 L194.3 155.8 L193.7 155.7 L193.0 155.6 L192.4 155.6 L191.8 155.5 L191.1 155.4 L190.5 155.3 L189.8 155.3 L189.2 155.2 L188.5 155.1 L187.9 155.1 L187.2 155.0 L186.6 154.9 L185.9 154.9 L185.3 154.8 L184.6 154.8 L184.0 154.7 L183.3 154.7 L182.7 154.6 L182.1 154.6 L181.4 154.6 L180.8 154.5 L180.1 154.5 L179.5 154.5 L178.8 154.5 L178.2 154.4 L177.5 154.4 L176.9 154.4 L176.2 154.4 L175.6 154.3 L174.9 154.3 L174.3 154.3 L173.6 154.3 L173.0 154.2 L172.3 154.2 L171.7 154.2 L171.1 154.2 L170.4 154.2 L169.8 154.1 L169.1 154.1 L168.5 154.1 L167.8 154.1 L167.2 154.1 L166.5 154.1 L165.9 154.1 L165.2 154.0 L164.6 154.0 L163.9 154.0 L163.3 154.0 L162.6 154.0 L162.0 154.0 L161.4 154.0 L160.7 154.0 L160.1 154.0 L159.4 154.0 L158.8 154.0 L158.1 154.0 L157.5 154.1 L156.8 154.1 L156.2 154.2 L155.5 154.2 L154.9 154.3 L154.2 154.4 L153.6 154.5 L152.9 154.5 L152.3 154.6 L151.6 154.7 L151.0 154.8 L150.4 154.9 L149.7 155.0 L149.1 155.1 L148.4 155.1 L147.8 155.2 L147.1 155.3 L146.5 155.4 L145.8 155.4 L145.2 155.5 L144.5 155.5 L143.9 155.6 L143.2 155.6 L142.6 155.7 L141.9 155.7 L141.3 155.8 L140.7 155.8 L140.0 155.9 L139.4 155.9 L138.7 155.9 L138.1 156.0 L137.4 156.0 L136.8 156.1 L136.1 156.1 L135.5 156.1 L134.8 156.2 L134.2 156.2 L133.5 156.2 L132.9 156.3 L132.2 156.3 L131.6 156.3 L130.9 156.4 L130.3 156.4 L129.7 156.4 L129.0 156.5 L128.4 156.5 L127.7 156.6 L127.1 156.6 L126.4 156.6 L125.8 156.7 L125.1 156.7 L124.5 156.7 L123.8 156.8 L123.2 156.8 L122.5 156.9 L121.9 156.9 L121.2 157.0 L120.6 157.0 L120.0 157.1 L119.3 157.1 L118.7 157.2 L118.0 157.2 L117.4 157.3 L116.7 157.3 L116.1 157.4 L115.4 157.5 L114.8 157.5 L114.1 157.6 L113.5 157.7 L112.8 157.8 L112.2 157.9 L111.5 158.0 L110.9 158.1 L110.2 158.2 L109.6 158.4 L109.0 158.5 L108.3 158.6 L107.7 158.8 L107.0 158.9 L106.4 159.1 L105.7 159.2 L105.1 159.4 L104.4 159.5 L103.8 159.7 L103.1 159.8 L102.5 159.9 L101.8 160.1 L101.2 160.2 L100.5 160.3 L99.9 160.5 L99.3 160.6 L98.6 160.7 L98.0 160.8 L97.3 160.9 L96.7 160.9 L96.0 161.0 L95.4 161.1 L94.7 161.1 L94.1 161.2 L93.4 161.2 L92.8 161.3 L92.1 161.3 L91.5 161.4 L90.8 161.4 L90.2 161.4 L89.5 161.5 L88.9 161.5 L88.3 161.5 L87.6 161.6 L87.0 161.6 L86.3 161.6 L85.7 161.7 L85.0 161.7 L84.4 161.7 L83.7 161.8 L83.1 161.8 L82.4 161.8 L81.8 161.9 L81.1 161.9 L80.5 161.9 L79.8 162.0 L79.2 162.0 L78.6 162.1 L77.9 162.1 L77.3 162.1 L76.6 162.2 L76.0 162.2 L75.3 162.3 L74.7 162.3 L74.0 162.4 L73.4 162.4 L72.7 162.5 L72.1 162.5 L71.4 162.6 L70.8 162.7 L70.1 162.7 L69.5 162.8 L68.8 162.8 L68.2 162.9 L67.6 163.0 L66.9 163.0 L66.3 163.1 L65.6 163.2 L65.0 163.3 L64.3 163.3 L63.7 163.4 L63.0 163.5 L62.4 163.5 L61.7 163.6 L61.1 163.7 L60.4 163.8 L59.8 163.8 L59.1 163.9 L58.5 164.0Z"/></clipPath>
<g clip-path="url(#cr)"><path d="M-118.05 -5L34.45 300M-113.05 -5L39.45 300M-108.05 -5L44.45 300M-103.05 -5L49.45 300M-98.05 -5L54.45 300M-93.05 -5L59.45 300M-88.05 -5L64.45 300M-83.05 -5L69.45 300M-78.05 -5L74.45 300M-73.05 -5L79.45 300M-68.05 -5L84.45 300M-63.05 -5L89.45 300M-58.05 -5L94.45 300M-53.05 -5L99.45 300M-48.05 -5L104.45 300M-43.05 -5L109.45 300M-38.05 -5L114.45 300M-33.05 -5L119.45 300M-28.05 -5L124.45 300M-23.05 -5L129.45 300M-18.05 -5L134.45 300M-13.05 -5L139.45 300M-8.05 -5L144.45 300M-3.05 -5L149.45 300M1.95 -5L154.45 300M6.95 -5L159.45 300M11.95 -5L164.45 300M16.95 -5L169.45 300M21.95 -5L174.45 300M26.95 -5L179.45 300M31.95 -5L184.45 300M36.95 -5L189.45 300M41.95 -5L194.45 300M46.95 -5L199.45 300M51.95 -5L204.45 300M56.95 -5L209.45 300M61.95 -5L214.45 300M66.95 -5L219.45 300M71.95 -5L224.45 300M76.95 -5L229.45 300M81.95 -5L234.45 300M86.95 -5L239.45 300M91.95 -5L244.45 300M96.95 -5L249.45 300M101.95 -5L254.45 300M106.95 -5L259.45 300M111.95 -5L264.45 300M116.95 -5L269.45 300M121.95 -5L274.45 300M126.95 -5L279.45 300M131.95 -5L284.45 300M136.95 -5L289.45 300M141.95 -5L294.45 300M146.95 -5L299.45 300M151.95 -5L304.45 300M156.95 -5L309.45 300M161.95 -5L314.45 300M166.95 -5L319.45 300M171.95 -5L324.45 300M176.95 -5L329.45 300M181.95 -5L334.45 300M186.95 -5L339.45 300M191.95 -5L344.45 300M196.95 -5L349.45 300M201.95 -5L354.45 300M206.95 -5L359.45 300M211.95 -5L364.45 300M216.95 -5L369.45 300M221.95 -5L374.45 300M226.95 -5L379.45 300M231.95 -5L384.45 300M236.95 -5L389.45 300M241.95 -5L394.45 300M246.95 -5L399.45 300M251.95 -5L404.45 300M256.95 -5L409.45 300M261.95 -5L414.45 300M266.95 -5L419.45 300M271.95 -5L424.45 300M276.95 -5L429.45 300M281.95 -5L434.45 300M286.95 -5L439.45 300M291.95 -5L444.45 300M296.95 -5L449.45 300M301.95 -5L454.45 300M306.95 -5L459.45 300M311.95 -5L464.45 300M316.95 -5L469.45 300M321.95 -5L474.45 300M326.95 -5L479.45 300M331.95 -5L484.45 300M336.95 -5L489.45 300M341.95 -5L494.45 300M346.95 -5L499.45 300M351.95 -5L504.45 300M356.95 -5L509.45 300M361.95 -5L514.45 300M366.95 -5L519.45 300M371.95 -5L524.45 300M376.95 -5L529.45 300M381.95 -5L534.45 300M386.95 -5L539.45 300M391.95 -5L544.45 300M396.95 -5L549.45 300M401.95 -5L554.45 300M406.95 -5L559.45 300M411.95 -5L564.45 300M416.95 -5L569.45 300" stroke="#de4a42" stroke-width="1.1" fill="none"/></g>
<path d="M58.5 134.8 L59.1 134.9 L59.7 134.9 L60.3 134.9 L60.9 135.0 L61.5 135.0 L62.1 135.1 L62.7 135.1 L63.3 135.2 L63.9 135.2 L64.5 135.3 L65.1 135.3 L65.7 135.4 L66.3 135.4 L66.9 135.5 L67.5 135.5 L68.1 135.5 L68.7 135.6 L69.3 135.6 L69.9 135.7 L70.5 135.7 L71.1 135.8 L71.7 135.8 L72.3 135.8 L72.9 135.9 L73.5 135.9 L74.1 135.9 L74.7 136.0 L75.3 136.0 L75.9 136.1 L76.5 136.1 L77.1 136.1 L77.7 136.2 L78.3 136.2 L78.9 136.2 L79.5 136.3 L80.1 136.3 L80.7 136.4 L81.3 136.4 L81.9 136.4 L82.5 136.5 L83.1 136.5 L83.7 136.5 L84.3 136.6 L84.9 136.6 L85.5 136.6 L86.1 136.7 L86.7 136.7 L87.3 136.7 L87.9 136.8 L88.4 136.8 L89.0 136.8 L89.6 136.9 L90.2 136.9 L90.8 136.9 L91.4 136.9 L92.0 136.9 L92.6 137.0 L93.2 137.0 L93.8 137.0 L94.4 137.0 L95.0 137.0 L95.6 137.0 L96.2 137.0 L96.8 137.0 L97.4 137.0 L98.0 137.0 L98.6 137.0 L99.2 137.0 L99.8 137.0 L100.4 137.0 L101.0 137.0 L101.6 136.9 L102.2 136.9 L102.8 136.9 L103.4 136.9 L104.0 136.9 L104.6 136.9 L105.2 136.9 L105.8 136.9 L106.4 136.8 L107.0 136.8 L107.6 136.8 L108.2 136.8 L108.8 136.8 L109.4 136.8 L110.0 136.7 L110.6 136.7 L111.2 136.7 L111.8 136.7 L112.4 136.7 L113.0 136.7 L113.6 136.6 L114.2 136.6 L114.8 136.6 L115.4 136.6 L116.0 136.6 L116.6 136.6 L117.2 136.5 L117.8 136.5 L118.4 136.5 L119.0 136.5 L119.6 136.5 L120.2 136.4 L120.8 136.4 L121.4 136.4 L122.0 136.4 L122.6 136.4 L123.2 136.3 L123.8 136.3 L124.4 136.3 L125.0 136.3 L125.6 136.2 L126.2 136.2 L126.8 136.2 L127.4 136.2 L128.0 136.1 L128.6 136.1 L129.2 136.1 L129.8 136.1 L130.4 136.0 L131.0 136.0 L131.6 136.0 L132.2 136.0 L132.8 135.9 L133.4 135.9 L134.0 135.9 L134.6 135.9 L135.2 135.8 L135.8 135.8 L136.4 135.8 L137.0 135.8 L137.6 135.7 L138.2 135.7 L138.8 135.7 L139.4 135.7 L140.0 135.7 L140.6 135.6 L141.2 135.6 L141.8 135.6 L142.4 135.6 L143.0 135.6 L143.6 135.5 L144.2 135.5 L144.8 135.5 L145.4 135.5 L146.0 135.5 L146.6 135.5 L147.2 135.4 L147.8 135.4 L148.3 135.4 L148.9 135.4 L149.5 135.4 L150.1 135.4 L150.7 135.3 L151.3 135.3 L151.9 135.3 L152.5 135.3 L153.1 135.3 L153.7 135.3 L154.3 135.2 L154.9 135.2 L155.5 135.2 L156.1 135.2 L156.7 135.2 L157.3 135.2 L157.9 135.2 L158.5 135.1 L159.1 135.1 L159.7 135.1 L160.3 135.1 L160.9 135.1 L161.5 135.1 L162.1 135.1 L162.7 135.1 L163.3 135.1 L163.9 135.0 L164.5 135.0 L165.1 135.0 L165.7 135.0 L166.3 135.0 L166.9 135.0 L167.5 135.0 L168.1 135.0 L168.7 135.0 L169.3 135.0 L169.9 135.0 L170.5 135.0 L171.1 135.1 L171.7 135.2 L172.3 135.3 L172.9 135.4 L173.5 135.6 L174.1 135.7 L174.7 135.9 L175.3 136.1 L175.9 136.3 L176.5 136.4 L177.1 136.6 L177.7 136.7 L178.3 136.8 L178.9 136.9 L179.5 137.0 L180.1 137.0 L180.7 137.0 L181.3 137.0 L181.9 137.0 L182.5 137.0 L183.1 137.0 L183.7 137.0 L184.3 137.0 L184.9 137.0 L185.5 137.0 L186.1 137.0 L186.7 137.0 L187.3 137.0 L187.9 137.0 L188.5 137.0 L189.1 137.0 L189.7 137.0 L190.3 137.0 L190.9 137.0 L191.5 137.0 L192.1 137.0 L192.7 137.0 L193.3 137.0 L193.9 137.0 L194.5 137.0 L195.1 137.0 L195.7 137.0 L196.3 137.0 L196.9 137.0 L197.5 137.0 L198.1 137.0 L198.7 137.0 L199.3 137.0 L199.9 137.0 L200.5 137.0 L201.1 137.0 L201.7 137.0 L202.3 137.0 L202.9 137.0 L203.5 137.0 L204.1 136.9 L204.7 136.9 L205.3 136.9 L205.9 136.9 L206.5 136.9 L207.1 136.8 L207.7 136.8 L208.2 136.8 L208.8 136.8 L209.4 136.7 L210.0 136.7 L210.6 136.7 L211.2 136.6 L211.8 136.6 L212.4 136.6 L213.0 136.5 L213.6 136.5 L214.2 136.4 L214.8 136.4 L215.4 136.4 L216.0 136.3 L216.6 136.3 L217.2 136.2 L217.8 136.2 L218.4 136.1 L219.0 136.1 L219.6 136.0 L220.2 136.0 L220.8 135.9 L221.4 135.9 L222.0 135.8 L222.6 135.7 L223.2 135.7 L223.8 135.6 L224.4 135.5 L225.0 135.4 L225.6 135.3 L226.2 135.2 L226.8 135.1 L227.4 135.0 L228.0 134.8 L228.6 134.7 L229.2 134.6 L229.8 134.4 L230.4 134.3 L231.0 134.1 L231.6 134.0 L232.2 133.8 L232.8 133.7 L233.4 133.5 L234.0 133.3 L234.6 133.1 L235.2 132.9 L235.8 132.6 L236.4 132.3 L237.0 132.0 L237.6 131.6 L238.2 131.2 L238.8 130.8 L239.4 130.4 L240.0 130.0 L240.6 129.5 L241.2 129.0 L241.8 128.6 L242.4 128.1 L243.0 127.6 L243.6 127.1 L244.2 126.6 L244.8 126.1 L245.4 125.6 L246.0 125.1 L246.6 124.6 L247.2 124.0 L247.8 123.4 L248.4 122.8 L249.0 122.2 L249.6 121.5 L250.2 120.8 L250.8 120.0 L251.4 119.2 L252.0 118.3 L252.6 117.4 L253.2 116.4 L253.8 115.4 L254.4 114.3 L255.0 113.2 L255.6 112.1 L256.2 110.9 L256.8 109.7 L257.4 108.4 L258.0 107.2 L258.6 105.9 L259.2 104.7 L259.8 103.5 L260.4 102.3 L261.0 101.2 L261.6 100.0 L262.2 98.7 L262.8 97.4 L263.4 96.1 L264.0 94.6 L264.6 93.2 L265.2 91.7 L265.8 90.1 L266.4 88.6 L267.0 87.0 L267.6 85.4 L268.1 83.8 L268.7 82.3 L269.3 80.7 L269.9 79.1 L270.5 77.6 L271.1 76.1 L271.7 74.6 L272.3 73.1 L272.9 71.6 L273.5 70.1 L274.1 68.5 L274.7 67.0 L275.3 65.4 L275.9 63.8 L276.5 62.2 L277.1 60.5 L277.7 58.8 L278.3 57.0 L278.9 55.2 L279.5 53.3 L280.1 51.3 L280.7 49.3 L281.3 47.3 L281.9 45.3 L282.5 43.2 L283.1 41.1 L283.7 38.9 L284.3 36.8 L284.9 34.6 L285.5 32.4 L286.1 30.2 L286.7 28.0 L287.3 25.8 L287.9 23.6 L288.5 21.4 L289.1 19.2 L289.7 16.9 L290.3 14.6 L290.9 12.3 L291.5 10.0 L292.1 7.6 L292.7 5.2 L293.3 2.8 L293.9 0.4 L294.5 -2.1 L295.1 -4.6 L295.7 -7.1 L296.3 -9.7 L296.9 -12.4 L297.5 -15.0 L391.5 -15.0 L391.5 1.0 L400.0 55.0 L400.5 1.0 L400.5 -15.0 L404.5 -15.0 L404.5 305.0 L327.8 305.0 L327.1 302.0 L326.5 299.1 L325.8 296.1 L325.1 293.1 L324.4 290.0 L323.8 286.8 L323.1 283.6 L322.4 280.4 L321.7 277.2 L321.1 274.1 L320.4 271.1 L319.7 268.2 L319.0 265.5 L318.4 262.9 L317.7 260.3 L317.0 257.9 L316.3 255.4 L315.7 253.0 L315.0 250.5 L314.3 248.0 L313.6 245.3 L313.0 242.6 L312.3 239.8 L311.6 236.9 L310.9 234.1 L310.3 231.4 L309.6 228.8 L308.9 226.3 L308.2 224.1 L307.6 222.1 L306.9 220.1 L306.2 218.3 L305.5 216.5 L304.9 214.8 L304.2 213.2 L303.5 211.7 L302.8 210.2 L302.2 208.7 L301.5 207.3 L300.8 206.0 L300.1 204.7 L299.5 203.5 L298.8 202.3 L298.1 201.2 L297.4 200.1 L296.8 199.1 L296.1 198.1 L295.4 197.1 L294.7 196.2 L294.1 195.3 L293.4 194.4 L292.7 193.5 L292.0 192.7 L291.4 191.9 L290.7 191.2 L290.0 190.4 L289.3 189.7 L288.7 189.0 L288.0 188.2 L287.3 187.5 L286.6 186.9 L286.0 186.2 L285.3 185.6 L284.6 184.9 L283.9 184.3 L283.3 183.7 L282.6 183.2 L281.9 182.6 L281.2 182.1 L280.6 181.6 L279.9 181.1 L279.2 180.7 L278.5 180.2 L277.9 179.8 L277.2 179.4 L276.5 178.9 L275.8 178.5 L275.2 178.1 L274.5 177.7 L273.8 177.4 L273.1 177.0 L272.5 176.8 L271.8 176.5 L271.1 176.3 L270.4 176.1 L269.8 176.0 L269.1 175.8 L268.4 175.7 L267.7 175.6 L267.1 175.5 L266.4 175.4 L265.7 175.3 L265.0 175.2 L264.4 175.1 L263.7 175.1 L263.0 175.0 L262.3 174.9 L261.7 174.8 L261.0 174.8 L260.3 174.7 L259.6 174.7 L259.0 174.6 L258.3 174.6 L257.6 174.5 L256.9 174.5 L256.3 174.5 L255.6 174.4 L254.9 174.4 L254.2 174.4 L253.6 174.3 L252.9 174.3 L252.2 174.3 L251.5 174.3 L250.9 174.3 L250.2 174.3 L249.5 174.2 L248.8 174.2 L248.2 174.2 L247.5 174.2 L246.8 174.2 L246.1 174.2 L245.5 174.2 L244.8 174.2 L244.1 174.1 L243.4 174.1 L242.8 174.1 L242.1 174.1 L241.4 174.1 L240.7 174.0 L240.1 174.0 L239.4 174.0 L238.7 173.9 L238.0 173.8 L237.4 173.7 L236.7 173.5 L236.0 173.4 L235.3 173.3 L234.7 173.1 L234.0 173.0 L233.3 172.9 L232.6 172.8 L232.0 172.6 L231.3 172.5 L230.6 172.4 L229.9 172.3 L229.3 172.2 L228.6 172.0 L227.9 171.9 L227.2 171.8 L226.6 171.7 L225.9 171.5 L225.2 171.4 L224.5 171.3 L223.9 171.2 L223.2 171.0 L222.5 170.9 L221.8 170.8 L221.2 170.6 L220.5 170.5 L219.8 170.4 L219.1 170.2 L218.5 170.1 L217.8 169.9 L217.1 169.8 L216.4 169.7 L215.8 169.5 L215.1 169.4 L214.4 169.2 L213.7 169.1 L213.1 168.9 L212.4 168.7 L211.7 168.6 L211.0 168.4 L210.4 168.3 L209.7 168.1 L209.0 168.0 L208.3 167.8 L207.7 167.7 L207.0 167.5 L206.3 167.4 L205.6 167.2 L205.0 167.1 L204.3 166.9 L203.6 166.8 L202.9 166.6 L202.3 166.5 L201.6 166.3 L200.9 166.2 L200.2 166.0 L199.6 165.9 L198.9 165.8 L198.2 165.6 L197.5 165.5 L196.9 165.4 L196.2 165.2 L195.5 165.1 L194.8 165.0 L194.2 164.8 L193.5 164.7 L192.8 164.6 L192.1 164.5 L191.5 164.3 L190.8 164.2 L190.1 164.1 L189.4 163.9 L188.8 163.8 L188.1 163.7 L187.4 163.6 L186.7 163.4 L186.1 163.3 L185.4 163.2 L184.7 163.1 L184.0 163.0 L183.4 162.9 L182.7 162.7 L182.0 162.6 L181.3 162.5 L180.7 162.4 L180.0 162.3 L179.3 162.2 L178.6 162.1 L178.0 162.0 L177.3 161.8 L176.6 161.7 L175.9 161.6 L175.3 161.5 L174.6 161.3 L173.9 161.2 L173.2 161.1 L172.6 161.0 L171.9 160.8 L171.2 160.7 L170.5 160.6 L169.9 160.5 L169.2 160.4 L168.5 160.3 L167.8 160.2 L167.2 160.1 L166.5 160.0 L165.8 159.9 L165.1 159.8 L164.5 159.7 L163.8 159.7 L163.1 159.6 L162.4 159.6 L161.8 159.5 L161.1 159.5 L160.4 159.5 L159.7 159.5 L159.1 159.5 L158.4 159.5 L157.7 159.5 L157.0 159.5 L156.4 159.5 L155.7 159.5 L155.0 159.5 L154.3 159.5 L153.7 159.5 L153.0 159.5 L152.3 159.5 L151.6 159.5 L151.0 159.5 L150.3 159.5 L149.6 159.5 L148.9 159.5 L148.3 159.5 L147.6 159.5 L146.9 159.5 L146.2 159.5 L145.6 159.5 L144.9 159.5 L144.2 159.5 L143.5 159.5 L142.9 159.5 L142.2 159.5 L141.5 159.5 L140.8 159.5 L140.2 159.5 L139.5 159.6 L138.8 159.6 L138.1 159.6 L137.5 159.6 L136.8 159.6 L136.1 159.6 L135.4 159.7 L134.8 159.7 L134.1 159.7 L133.4 159.7 L132.7 159.8 L132.1 159.8 L131.4 159.8 L130.7 159.9 L130.0 159.9 L129.4 159.9 L128.7 160.0 L128.0 160.0 L127.3 160.0 L126.7 160.1 L126.0 160.1 L125.3 160.1 L124.6 160.2 L124.0 160.2 L123.3 160.3 L122.6 160.3 L121.9 160.3 L121.3 160.4 L120.6 160.4 L119.9 160.5 L119.2 160.5 L118.6 160.6 L117.9 160.6 L117.2 160.6 L116.5 160.7 L115.9 160.7 L115.2 160.8 L114.5 160.8 L113.8 160.9 L113.2 161.0 L112.5 161.0 L111.8 161.1 L111.1 161.2 L110.5 161.3 L109.8 161.4 L109.1 161.5 L108.4 161.6 L107.8 161.7 L107.1 161.8 L106.4 161.9 L105.7 162.0 L105.1 162.1 L104.4 162.3 L103.7 162.4 L103.0 162.5 L102.4 162.6 L101.7 162.7 L101.0 162.8 L100.3 163.0 L99.7 163.1 L99.0 163.2 L98.3 163.3 L97.6 163.4 L97.0 163.5 L96.3 163.6 L95.6 163.6 L94.9 163.7 L94.3 163.8 L93.6 163.9 L92.9 163.9 L92.2 164.0 L91.6 164.1 L90.9 164.1 L90.2 164.2 L89.5 164.3 L88.9 164.4 L88.2 164.4 L87.5 164.5 L86.8 164.6 L86.2 164.7 L85.5 164.7 L84.8 164.8 L84.1 164.9 L83.5 165.0 L82.8 165.1 L82.1 165.2 L81.4 165.3 L80.8 165.4 L80.1 165.5 L79.4 165.7 L78.7 165.8 L78.1 165.9 L77.4 166.0 L76.7 166.2 L76.0 166.3 L75.4 166.4 L74.7 166.6 L74.0 166.7 L73.3 166.9 L72.7 167.0 L72.0 167.2 L71.3 167.3 L70.6 167.5 L70.0 167.7 L69.3 167.8 L68.6 168.0 L67.9 168.2 L67.3 168.4 L66.6 168.6 L65.9 168.7 L65.2 168.9 L64.6 169.1 L63.9 169.3 L63.2 169.5 L62.5 169.7 L61.9 169.9 L61.2 170.1 L60.5 170.3 L59.8 170.6 L59.2 170.8 L58.5 171.0Z" fill="none" stroke="#c23c46" stroke-width="1.5"/>
<g clip-path="url(#cr)"></g>
<g clip-path="url(#cg)"><path d="M41.40 -5L-111.10 300M46.40 -5L-106.10 300M51.40 -5L-101.10 300M56.40 -5L-96.10 300M61.40 -5L-91.10 300M66.40 -5L-86.10 300M71.40 -5L-81.10 300M76.40 -5L-76.10 300M81.40 -5L-71.10 300M86.40 -5L-66.10 300M91.40 -5L-61.10 300M96.40 -5L-56.10 300M101.40 -5L-51.10 300M106.40 -5L-46.10 300M111.40 -5L-41.10 300M116.40 -5L-36.10 300M121.40 -5L-31.10 300M126.40 -5L-26.10 300M131.40 -5L-21.10 300M136.40 -5L-16.10 300M141.40 -5L-11.10 300M146.40 -5L-6.10 300M151.40 -5L-1.10 300M156.40 -5L3.90 300M161.40 -5L8.90 300M166.40 -5L13.90 300M171.40 -5L18.90 300M176.40 -5L23.90 300M181.40 -5L28.90 300M186.40 -5L33.90 300M191.40 -5L38.90 300M196.40 -5L43.90 300M201.40 -5L48.90 300M206.40 -5L53.90 300M211.40 -5L58.90 300M216.40 -5L63.90 300M221.40 -5L68.90 300M226.40 -5L73.90 300M231.40 -5L78.90 300M236.40 -5L83.90 300M241.40 -5L88.90 300M246.40 -5L93.90 300M251.40 -5L98.90 300M256.40 -5L103.90 300M261.40 -5L108.90 300M266.40 -5L113.90 300M271.40 -5L118.90 300M276.40 -5L123.90 300M281.40 -5L128.90 300M286.40 -5L133.90 300M291.40 -5L138.90 300M296.40 -5L143.90 300M301.40 -5L148.90 300M306.40 -5L153.90 300M311.40 -5L158.90 300M316.40 -5L163.90 300M321.40 -5L168.90 300M326.40 -5L173.90 300M331.40 -5L178.90 300M336.40 -5L183.90 300M341.40 -5L188.90 300M346.40 -5L193.90 300M351.40 -5L198.90 300M356.40 -5L203.90 300M361.40 -5L208.90 300M366.40 -5L213.90 300M371.40 -5L218.90 300M376.40 -5L223.90 300M381.40 -5L228.90 300M386.40 -5L233.90 300M391.40 -5L238.90 300M396.40 -5L243.90 300M401.40 -5L248.90 300M406.40 -5L253.90 300M411.40 -5L258.90 300M416.40 -5L263.90 300M421.40 -5L268.90 300M426.40 -5L273.90 300M431.40 -5L278.90 300M436.40 -5L283.90 300M441.40 -5L288.90 300M446.40 -5L293.90 300M451.40 -5L298.90 300M456.40 -5L303.90 300M461.40 -5L308.90 300M466.40 -5L313.90 300M471.40 -5L318.90 300M476.40 -5L323.90 300M481.40 -5L328.90 300M486.40 -5L333.90 300M491.40 -5L338.90 300M496.40 -5L343.90 300M501.40 -5L348.90 300M506.40 -5L353.90 300M511.40 -5L358.90 300M516.40 -5L363.90 300M521.40 -5L368.90 300M526.40 -5L373.90 300M531.40 -5L378.90 300M536.40 -5L383.90 300M541.40 -5L388.90 300M546.40 -5L393.90 300M551.40 -5L398.90 300M556.40 -5L403.90 300M561.40 -5L408.90 300M566.40 -5L413.90 300M571.40 -5L418.90 300" stroke="#1c9a1c" stroke-width="1.28" fill="none"/></g>
<path d="M58.5 135.5 L59.3 135.6 L60.1 135.6 L60.8 135.7 L61.6 135.7 L62.4 135.8 L63.2 135.8 L64.0 135.9 L64.7 135.9 L65.5 136.0 L66.3 136.0 L67.1 136.1 L67.9 136.1 L68.6 136.2 L69.4 136.2 L70.2 136.3 L71.0 136.3 L71.8 136.3 L72.5 136.4 L73.3 136.4 L74.1 136.5 L74.9 136.5 L75.6 136.5 L76.4 136.6 L77.2 136.6 L78.0 136.6 L78.8 136.7 L79.5 136.7 L80.3 136.7 L81.1 136.8 L81.9 136.8 L82.7 136.8 L83.4 136.9 L84.2 136.9 L85.0 136.9 L85.8 137.0 L86.6 137.0 L87.3 137.0 L88.1 137.1 L88.9 137.1 L89.7 137.1 L90.5 137.1 L91.2 137.1 L92.0 137.2 L92.8 137.2 L93.6 137.2 L94.4 137.2 L95.1 137.2 L95.9 137.2 L96.7 137.2 L97.5 137.2 L98.3 137.2 L99.0 137.2 L99.8 137.2 L100.6 137.2 L101.4 137.2 L102.1 137.2 L102.9 137.2 L103.7 137.2 L104.5 137.1 L105.3 137.1 L106.0 137.1 L106.8 137.1 L107.6 137.1 L108.4 137.1 L109.2 137.1 L109.9 137.1 L110.7 137.1 L111.5 137.1 L112.3 137.0 L113.1 137.0 L113.8 137.0 L114.6 137.0 L115.4 137.0 L116.2 137.0 L117.0 137.0 L117.7 137.0 L118.5 136.9 L119.3 136.9 L120.1 136.9 L120.9 136.9 L121.6 136.9 L122.4 136.9 L123.2 136.8 L124.0 136.8 L124.8 136.8 L125.5 136.8 L126.3 136.8 L127.1 136.7 L127.9 136.7 L128.7 136.7 L129.4 136.7 L130.2 136.6 L131.0 136.6 L131.8 136.6 L132.5 136.5 L133.3 136.5 L134.1 136.5 L134.9 136.5 L135.7 136.4 L136.4 136.4 L137.2 136.4 L138.0 136.3 L138.8 136.3 L139.6 136.3 L140.3 136.2 L141.1 136.2 L141.9 136.2 L142.7 136.1 L143.5 136.1 L144.2 136.0 L145.0 136.0 L145.8 136.0 L146.6 135.9 L147.4 135.8 L148.1 135.7 L148.9 135.7 L149.7 135.6 L150.5 135.5 L151.3 135.4 L152.0 135.3 L152.8 135.2 L153.6 135.1 L154.4 135.0 L155.2 134.9 L155.9 134.9 L156.7 134.8 L157.5 134.7 L158.3 134.7 L159.0 134.6 L159.8 134.6 L160.6 134.6 L161.4 134.6 L162.2 134.6 L162.9 134.6 L163.7 134.5 L164.5 134.5 L165.3 134.5 L166.1 134.5 L166.8 134.5 L167.6 134.5 L168.4 134.5 L169.2 134.5 L170.0 134.5 L170.7 134.5 L171.5 134.5 L172.3 134.5 L173.1 134.5 L173.9 134.4 L174.6 134.4 L175.4 134.4 L176.2 134.4 L177.0 134.4 L177.8 134.4 L178.5 134.4 L179.3 134.4 L180.1 134.4 L180.9 134.4 L181.7 134.4 L182.4 134.4 L183.2 134.4 L184.0 134.4 L184.8 134.4 L185.6 134.4 L186.3 134.3 L187.1 134.3 L187.9 134.3 L188.7 134.3 L189.4 134.3 L190.2 134.3 L191.0 134.3 L191.8 134.3 L192.6 134.3 L193.3 134.3 L194.1 134.3 L194.9 134.3 L195.7 134.3 L196.5 134.3 L197.2 134.2 L198.0 134.2 L198.8 134.2 L199.6 134.2 L200.4 134.2 L201.1 134.2 L201.9 134.1 L202.7 134.1 L203.5 134.1 L204.3 134.0 L205.0 134.0 L205.8 133.9 L206.6 133.9 L207.4 133.8 L208.2 133.8 L208.9 133.7 L209.7 133.6 L210.5 133.6 L211.3 133.5 L212.1 133.4 L212.8 133.3 L213.6 133.2 L214.4 133.1 L215.2 133.0 L215.9 132.9 L216.7 132.8 L217.5 132.7 L218.3 132.6 L219.1 132.5 L219.8 132.4 L220.6 132.3 L221.4 132.2 L222.2 132.0 L223.0 131.9 L223.7 131.7 L224.5 131.6 L225.3 131.4 L226.1 131.2 L226.9 131.0 L227.6 130.7 L228.4 130.5 L229.2 130.3 L230.0 130.1 L230.8 129.8 L231.5 129.6 L232.3 129.3 L233.1 129.0 L233.9 128.8 L234.7 128.5 L235.4 128.2 L236.2 127.9 L237.0 127.7 L237.8 127.4 L238.6 127.1 L239.3 126.8 L240.1 126.6 L240.9 126.3 L241.7 126.0 L242.4 125.7 L243.2 125.4 L244.0 125.1 L244.8 124.8 L245.6 124.4 L246.3 124.1 L247.1 123.8 L247.9 123.4 L248.7 123.0 L249.5 122.7 L250.2 122.3 L251.0 121.9 L251.8 121.5 L252.6 121.2 L253.4 120.8 L254.1 120.4 L254.9 119.9 L255.7 119.5 L256.5 119.0 L257.3 118.5 L258.0 118.0 L258.8 117.5 L259.6 117.0 L260.4 116.4 L261.2 115.9 L261.9 115.3 L262.7 114.8 L263.5 114.3 L264.3 113.9 L265.1 113.5 L265.8 113.1 L266.6 112.6 L267.4 112.2 L268.2 111.9 L269.0 111.5 L269.7 111.1 L270.5 110.7 L271.3 110.4 L272.1 110.1 L272.8 109.8 L273.6 109.5 L274.4 109.2 L275.2 108.9 L276.0 108.7 L276.7 108.4 L277.5 108.2 L278.3 107.9 L279.1 107.7 L279.9 107.5 L280.6 107.3 L281.4 107.1 L282.2 106.9 L283.0 106.8 L283.8 106.7 L284.5 106.6 L285.3 106.5 L286.1 106.5 L286.9 106.4 L287.7 106.4 L288.4 106.3 L289.2 106.3 L290.0 106.3 L290.8 106.4 L291.6 106.5 L292.3 106.7 L293.1 107.0 L293.9 107.2 L294.7 107.5 L295.5 107.8 L296.2 108.1 L297.0 108.4 L297.8 108.8 L298.6 109.1 L299.3 109.5 L300.1 110.0 L300.9 110.4 L301.7 110.9 L302.5 111.4 L303.2 111.9 L304.0 112.4 L304.8 113.0 L305.6 113.5 L306.4 114.2 L307.1 114.9 L307.9 115.6 L308.7 116.4 L309.5 117.3 L310.3 118.1 L311.0 119.1 L311.8 120.0 L312.6 120.9 L313.4 121.9 L314.2 122.9 L314.9 123.8 L315.7 124.8 L316.5 125.8 L317.3 126.8 L318.1 127.8 L318.8 128.9 L319.6 130.0 L320.4 131.1 L321.2 132.3 L322.0 133.5 L322.7 134.8 L323.5 136.1 L324.3 137.5 L325.1 139.0 L325.9 140.6 L326.6 142.2 L327.4 143.9 L328.2 145.7 L329.0 147.5 L329.7 149.3 L330.5 151.3 L331.3 153.4 L332.1 155.6 L332.9 157.8 L333.6 160.1 L334.4 162.5 L335.2 164.9 L336.0 167.4 L336.8 170.1 L337.5 172.9 L338.3 176.3 L339.1 179.8 L339.9 182.9 L340.7 185.7 L341.4 188.3 L342.2 190.9 L343.0 193.4 L343.8 195.9 L344.6 198.3 L345.3 200.8 L346.1 203.3 L346.9 205.9 L347.7 208.4 L348.5 210.9 L349.2 213.3 L350.0 215.8 L350.8 218.4 L351.6 221.0 L352.4 223.8 L353.1 226.7 L353.9 229.8 L354.7 233.1 L355.5 236.6 L356.2 240.2 L357.0 243.9 L357.8 247.6 L358.6 251.4 L359.4 255.2 L360.1 258.9 L360.9 262.6 L361.7 266.4 L362.5 270.2 L363.3 274.1 L364.0 277.9 L364.8 281.8 L365.6 285.7 L366.4 289.5 L367.2 293.4 L367.9 297.3 L368.7 301.1 L369.5 305.0 L316.6 305.0 L316.0 302.4 L315.3 299.9 L314.7 297.4 L314.0 294.9 L313.4 292.5 L312.7 290.1 L312.1 287.7 L311.4 285.3 L310.8 282.9 L310.1 280.6 L309.5 278.3 L308.8 276.0 L308.2 273.8 L307.5 271.7 L306.9 269.5 L306.3 267.5 L305.6 265.5 L305.0 263.6 L304.3 261.7 L303.7 259.8 L303.0 258.0 L302.4 256.2 L301.7 254.4 L301.1 252.6 L300.4 250.8 L299.8 249.0 L299.1 247.2 L298.5 245.3 L297.8 243.5 L297.2 241.6 L296.5 239.7 L295.9 237.8 L295.3 236.0 L294.6 234.1 L294.0 232.3 L293.3 230.4 L292.7 228.6 L292.0 226.9 L291.4 225.2 L290.7 223.5 L290.1 221.8 L289.4 220.1 L288.8 218.4 L288.1 216.8 L287.5 215.1 L286.8 213.5 L286.2 212.0 L285.6 210.5 L284.9 209.2 L284.3 207.9 L283.6 206.7 L283.0 205.5 L282.3 204.4 L281.7 203.4 L281.0 202.4 L280.4 201.5 L279.7 200.6 L279.1 199.7 L278.4 198.8 L277.8 198.0 L277.1 197.2 L276.5 196.4 L275.8 195.6 L275.2 194.9 L274.6 194.2 L273.9 193.5 L273.3 192.8 L272.6 192.1 L272.0 191.5 L271.3 190.8 L270.7 190.2 L270.0 189.5 L269.4 188.9 L268.7 188.3 L268.1 187.6 L267.4 187.0 L266.8 186.4 L266.1 185.8 L265.5 185.2 L264.9 184.6 L264.2 184.0 L263.6 183.4 L262.9 182.7 L262.3 182.0 L261.6 181.4 L261.0 180.7 L260.3 180.0 L259.7 179.3 L259.0 178.6 L258.4 177.9 L257.7 177.3 L257.1 176.6 L256.4 176.0 L255.8 175.4 L255.1 174.8 L254.5 174.3 L253.9 173.7 L253.2 173.2 L252.6 172.7 L251.9 172.2 L251.3 171.7 L250.6 171.2 L250.0 170.7 L249.3 170.2 L248.7 169.8 L248.0 169.3 L247.4 168.9 L246.7 168.5 L246.1 168.1 L245.4 167.7 L244.8 167.4 L244.2 167.0 L243.5 166.7 L242.9 166.4 L242.2 166.0 L241.6 165.7 L240.9 165.4 L240.3 165.1 L239.6 164.8 L239.0 164.5 L238.3 164.2 L237.7 164.0 L237.0 163.7 L236.4 163.5 L235.7 163.3 L235.1 163.0 L234.4 162.8 L233.8 162.6 L233.2 162.5 L232.5 162.3 L231.9 162.1 L231.2 162.0 L230.6 161.8 L229.9 161.6 L229.3 161.5 L228.6 161.4 L228.0 161.2 L227.3 161.1 L226.7 161.0 L226.0 160.8 L225.4 160.7 L224.7 160.6 L224.1 160.5 L223.5 160.3 L222.8 160.2 L222.2 160.1 L221.5 160.0 L220.9 159.9 L220.2 159.7 L219.6 159.6 L218.9 159.5 L218.3 159.4 L217.6 159.3 L217.0 159.1 L216.3 159.0 L215.7 158.9 L215.0 158.8 L214.4 158.7 L213.7 158.6 L213.1 158.5 L212.5 158.4 L211.8 158.2 L211.2 158.1 L210.5 158.0 L209.9 157.9 L209.2 157.8 L208.6 157.7 L207.9 157.6 L207.3 157.5 L206.6 157.4 L206.0 157.3 L205.3 157.2 L204.7 157.1 L204.0 157.0 L203.4 156.9 L202.8 156.9 L202.1 156.8 L201.5 156.7 L200.8 156.6 L200.2 156.5 L199.5 156.4 L198.9 156.4 L198.2 156.3 L197.6 156.2 L196.9 156.1 L196.3 156.0 L195.6 156.0 L195.0 155.9 L194.3 155.8 L193.7 155.7 L193.0 155.6 L192.4 155.6 L191.8 155.5 L191.1 155.4 L190.5 155.3 L189.8 155.3 L189.2 155.2 L188.5 155.1 L187.9 155.1 L187.2 155.0 L186.6 154.9 L185.9 154.9 L185.3 154.8 L184.6 154.8 L184.0 154.7 L183.3 154.7 L182.7 154.6 L182.1 154.6 L181.4 154.6 L180.8 154.5 L180.1 154.5 L179.5 154.5 L178.8 154.5 L178.2 154.4 L177.5 154.4 L176.9 154.4 L176.2 154.4 L175.6 154.3 L174.9 154.3 L174.3 154.3 L173.6 154.3 L173.0 154.2 L172.3 154.2 L171.7 154.2 L171.1 154.2 L170.4 154.2 L169.8 154.1 L169.1 154.1 L168.5 154.1 L167.8 154.1 L167.2 154.1 L166.5 154.1 L165.9 154.1 L165.2 154.0 L164.6 154.0 L163.9 154.0 L163.3 154.0 L162.6 154.0 L162.0 154.0 L161.4 154.0 L160.7 154.0 L160.1 154.0 L159.4 154.0 L158.8 154.0 L158.1 154.0 L157.5 154.1 L156.8 154.1 L156.2 154.2 L155.5 154.2 L154.9 154.3 L154.2 154.4 L153.6 154.5 L152.9 154.5 L152.3 154.6 L151.6 154.7 L151.0 154.8 L150.4 154.9 L149.7 155.0 L149.1 155.1 L148.4 155.1 L147.8 155.2 L147.1 155.3 L146.5 155.4 L145.8 155.4 L145.2 155.5 L144.5 155.5 L143.9 155.6 L143.2 155.6 L142.6 155.7 L141.9 155.7 L141.3 155.8 L140.7 155.8 L140.0 155.9 L139.4 155.9 L138.7 155.9 L138.1 156.0 L137.4 156.0 L136.8 156.1 L136.1 156.1 L135.5 156.1 L134.8 156.2 L134.2 156.2 L133.5 156.2 L132.9 156.3 L132.2 156.3 L131.6 156.3 L130.9 156.4 L130.3 156.4 L129.7 156.4 L129.0 156.5 L128.4 156.5 L127.7 156.6 L127.1 156.6 L126.4 156.6 L125.8 156.7 L125.1 156.7 L124.5 156.7 L123.8 156.8 L123.2 156.8 L122.5 156.9 L121.9 156.9 L121.2 157.0 L120.6 157.0 L120.0 157.1 L119.3 157.1 L118.7 157.2 L118.0 157.2 L117.4 157.3 L116.7 157.3 L116.1 157.4 L115.4 157.5 L114.8 157.5 L114.1 157.6 L113.5 157.7 L112.8 157.8 L112.2 157.9 L111.5 158.0 L110.9 158.1 L110.2 158.2 L109.6 158.4 L109.0 158.5 L108.3 158.6 L107.7 158.8 L107.0 158.9 L106.4 159.1 L105.7 159.2 L105.1 159.4 L104.4 159.5 L103.8 159.7 L103.1 159.8 L102.5 159.9 L101.8 160.1 L101.2 160.2 L100.5 160.3 L99.9 160.5 L99.3 160.6 L98.6 160.7 L98.0 160.8 L97.3 160.9 L96.7 160.9 L96.0 161.0 L95.4 161.1 L94.7 161.1 L94.1 161.2 L93.4 161.2 L92.8 161.3 L92.1 161.3 L91.5 161.4 L90.8 161.4 L90.2 161.4 L89.5 161.5 L88.9 161.5 L88.3 161.5 L87.6 161.6 L87.0 161.6 L86.3 161.6 L85.7 161.7 L85.0 161.7 L84.4 161.7 L83.7 161.8 L83.1 161.8 L82.4 161.8 L81.8 161.9 L81.1 161.9 L80.5 161.9 L79.8 162.0 L79.2 162.0 L78.6 162.1 L77.9 162.1 L77.3 162.1 L76.6 162.2 L76.0 162.2 L75.3 162.3 L74.7 162.3 L74.0 162.4 L73.4 162.4 L72.7 162.5 L72.1 162.5 L71.4 162.6 L70.8 162.7 L70.1 162.7 L69.5 162.8 L68.8 162.8 L68.2 162.9 L67.6 163.0 L66.9 163.0 L66.3 163.1 L65.6 163.2 L65.0 163.3 L64.3 163.3 L63.7 163.4 L63.0 163.5 L62.4 163.5 L61.7 163.6 L61.1 163.7 L60.4 163.8 L59.8 163.8 L59.1 163.9 L58.5 164.0Z" fill="none" stroke="#1c9a1c" stroke-width="1.5"/>
<line x1="58.4" y1="148.2" x2="403.75" y2="148.2" stroke="#4a90ee" stroke-width="2.4"/>
<path d="M58.5 151.4 L59.3 151.3 L60.1 151.2 L60.8 151.2 L61.6 151.1 L62.4 151.0 L63.2 150.9 L64.0 150.9 L64.7 150.8 L65.5 150.7 L66.3 150.7 L67.1 150.6 L67.9 150.5 L68.6 150.5 L69.4 150.4 L70.2 150.3 L71.0 150.3 L71.8 150.2 L72.5 150.2 L73.3 150.1 L74.1 150.1 L74.9 150.0 L75.7 150.0 L76.4 149.9 L77.2 149.9 L78.0 149.8 L78.8 149.8 L79.6 149.7 L80.3 149.7 L81.1 149.7 L81.9 149.6 L82.7 149.6 L83.5 149.5 L84.2 149.5 L85.0 149.5 L85.8 149.4 L86.6 149.4 L87.4 149.4 L88.1 149.3 L88.9 149.3 L89.7 149.3 L90.5 149.2 L91.3 149.2 L92.0 149.2 L92.8 149.1 L93.6 149.1 L94.4 149.1 L95.2 149.0 L95.9 149.0 L96.7 149.0 L97.5 148.9 L98.3 148.9 L99.1 148.9 L99.9 148.8 L100.6 148.8 L101.4 148.7 L102.2 148.7 L103.0 148.7 L103.8 148.6 L104.5 148.6 L105.3 148.6 L106.1 148.5 L106.9 148.5 L107.7 148.4 L108.4 148.4 L109.2 148.4 L110.0 148.4 L110.8 148.3 L111.6 148.3 L112.3 148.3 L113.1 148.2 L113.9 148.2 L114.7 148.2 L115.5 148.2 L116.2 148.2 L117.0 148.2 L117.8 148.1 L118.6 148.1 L119.4 148.1 L120.1 148.1 L120.9 148.1 L121.7 148.1 L122.5 148.0 L123.3 148.0 L124.0 148.0 L124.8 148.0 L125.6 148.0 L126.4 148.0 L127.2 148.0 L127.9 148.0 L128.7 147.9 L129.5 147.9 L130.3 147.9 L131.1 147.9 L131.8 147.9 L132.6 147.9 L133.4 147.9 L134.2 147.9 L135.0 147.9 L135.7 147.8 L136.5 147.8 L137.3 147.8 L138.1 147.8 L138.9 147.8 L139.6 147.8 L140.4 147.8 L141.2 147.8 L142.0 147.8 L142.8 147.8 L143.5 147.8 L144.3 147.8 L145.1 147.8 L145.9 147.8 L146.7 147.8 L147.4 147.8 L148.2 147.8 L149.0 147.9 L149.8 147.9 L150.6 147.9 L151.3 148.0 L152.1 148.0 L152.9 148.0 L153.7 148.1 L154.5 148.1 L155.2 148.2 L156.0 148.2 L156.8 148.3 L157.6 148.3 L158.4 148.4 L159.1 148.4 L159.9 148.5 L160.7 148.6 L161.5 148.6 L162.3 148.7 L163.0 148.8 L163.8 148.9 L164.6 149.0 L165.4 149.1 L166.2 149.2 L166.9 149.3 L167.7 149.4 L168.5 149.6 L169.3 149.7 L170.1 149.8 L170.8 150.0 L171.6 150.1 L172.4 150.3 L173.2 150.4 L174.0 150.5 L174.7 150.7 L175.5 150.8 L176.3 150.9 L177.1 151.1 L177.9 151.2 L178.7 151.3 L179.4 151.4 L180.2 151.5 L181.0 151.6 L181.8 151.7 L182.6 151.8 L183.3 152.0 L184.1 152.1 L184.9 152.2 L185.7 152.3 L186.5 152.4 L187.2 152.5 L188.0 152.6 L188.8 152.7 L189.6 152.8 L190.4 152.9 L191.1 153.0 L191.9 153.1 L192.7 153.2 L193.5 153.3 L194.3 153.4 L195.0 153.4 L195.8 153.5 L196.6 153.6 L197.4 153.7 L198.2 153.8 L198.9 153.9 L199.7 154.0 L200.5 154.1 L201.3 154.1 L202.1 154.2 L202.8 154.3 L203.6 154.4 L204.4 154.5 L205.2 154.6 L206.0 154.7 L206.7 154.8 L207.5 154.9 L208.3 155.0 L209.1 155.1 L209.9 155.1 L210.6 155.2 L211.4 155.3 L212.2 155.4 L213.0 155.5 L213.8 155.5 L214.5 155.6 L215.3 155.6 L216.1 155.7 L216.9 155.7 L217.7 155.8 L218.4 155.8 L219.2 155.8 L220.0 155.8 L220.8 155.8 L221.6 155.8 L222.3 155.8 L223.1 155.7 L223.9 155.7 L224.7 155.6 L225.5 155.6 L226.2 155.5 L227.0 155.5 L227.8 155.4 L228.6 155.3 L229.4 155.2 L230.1 155.1 L230.9 155.0 L231.7 155.0 L232.5 154.8 L233.3 154.7 L234.0 154.6 L234.8 154.5 L235.6 154.4 L236.4 154.2 L237.2 154.1 L237.9 153.8 L238.7 153.6 L239.5 153.3 L240.3 153.0 L241.1 152.7 L241.8 152.4 L242.6 152.1 L243.4 151.8 L244.2 151.4 L245.0 151.0 L245.7 150.6 L246.5 150.2 L247.3 149.7 L248.1 149.3 L248.9 148.7 L249.6 148.2 L250.4 147.6 L251.2 147.1 L252.0 146.5 L252.8 145.8 L253.6 145.2 L254.3 144.6 L255.1 143.9 L255.9 143.2 L256.7 142.4 L257.5 141.6 L258.2 140.8 L259.0 139.9 L259.8 139.0 L260.6 138.1 L261.4 137.1 L262.1 136.2 L262.9 135.2 L263.7 134.3 L264.5 133.4 L265.3 132.5 L266.0 131.6 L266.8 130.7 L267.6 129.7 L268.4 128.8 L269.2 127.9 L269.9 127.0 L270.7 126.0 L271.5 125.1 L272.3 124.2 L273.1 123.3 L273.8 122.4 L274.6 121.5 L275.4 120.6 L276.2 119.7 L277.0 118.9 L277.7 118.0 L278.5 117.1 L279.3 116.3 L280.1 115.4 L280.9 114.5 L281.6 113.7 L282.4 112.8 L283.2 112.0 L284.0 111.2 L284.8 110.3 L285.5 109.5 L286.3 108.7 L287.1 107.8 L287.9 107.0 L288.7 106.2 L289.4 105.4 L290.2 104.6 L291.0 103.7 L291.8 102.9 L292.6 102.2 L293.3 101.4 L294.1 100.6 L294.9 99.8 L295.7 99.0 L296.5 98.3 L297.2 97.5 L298.0 96.8 L298.8 96.0 L299.6 95.3 L300.4 94.6 L301.1 93.9 L301.9 93.2 L302.7 92.5 L303.5 91.8 L304.3 91.2 L305.0 90.7 L305.8 90.2 L306.6 89.7 L307.4 89.2 L308.2 88.8 L308.9 88.5 L309.7 88.2 L310.5 88.0 L311.3 87.7 L312.1 87.5 L312.8 87.4 L313.6 87.2 L314.4 87.2 L315.2 87.2 L316.0 87.3 L316.7 87.5 L317.5 87.7 L318.3 88.0 L319.1 88.2 L319.9 88.6 L320.6 89.1 L321.4 89.6 L322.2 90.2 L323.0 90.9 L323.8 91.6 L324.5 92.3 L325.3 93.2 L326.1 94.1 L326.9 95.1 L327.7 96.1 L328.4 97.3 L329.2 98.6 L330.0 100.1 L330.8 101.6 L331.6 103.2 L332.4 104.8 L333.1 106.6 L333.9 108.6 L334.7 110.8 L335.5 113.4 L336.3 116.1 L337.0 119.0 L337.8 122.0 L338.6 124.8 L339.4 127.5 L340.2 130.1 L340.9 132.7 L341.7 135.3 L342.5 137.9 L343.3 140.6 L344.1 143.3 L344.8 146.2 L345.6 149.3 L346.4 152.5 L347.2 156.0 L348.0 159.8 L348.7 163.9 L349.5 168.4 L350.3 173.2 L351.1 178.5 L351.9 183.2 L352.6 187.4 L353.4 191.2 L354.2 194.9 L355.0 198.5 L355.8 202.4 L356.5 206.4 L357.3 210.4 L358.1 214.5 L358.9 218.8 L359.7 223.2 L360.4 227.8 L361.2 232.7 L362.0 237.9 L362.8 243.2 L363.6 248.9 L364.3 254.8 L365.1 261.2 L365.9 268.3 L366.7 275.9 L367.5 283.7 L368.2 291.1 L369.0 298.2 L369.8 305.0" fill="none" stroke="#c23a44" stroke-width="2.8"/>
<path d="M58.5 150.0 L59.2 150.0 L59.9 149.9 L60.6 149.9 L61.3 149.8 L62.1 149.8 L62.8 149.8 L63.5 149.7 L64.2 149.7 L64.9 149.6 L65.6 149.6 L66.3 149.6 L67.0 149.5 L67.7 149.5 L68.4 149.4 L69.2 149.4 L69.9 149.4 L70.6 149.3 L71.3 149.3 L72.0 149.2 L72.7 149.2 L73.4 149.2 L74.1 149.1 L74.8 149.1 L75.6 149.1 L76.3 149.0 L77.0 149.0 L77.7 149.0 L78.4 148.9 L79.1 148.9 L79.8 148.9 L80.5 148.8 L81.2 148.8 L81.9 148.8 L82.7 148.7 L83.4 148.7 L84.1 148.7 L84.8 148.6 L85.5 148.6 L86.2 148.6 L86.9 148.5 L87.6 148.5 L88.3 148.5 L89.1 148.5 L89.8 148.4 L90.5 148.4 L91.2 148.4 L91.9 148.3 L92.6 148.3 L93.3 148.3 L94.0 148.3 L94.7 148.2 L95.4 148.2 L96.2 148.2 L96.9 148.2 L97.6 148.1 L98.3 148.1 L99.0 148.1 L99.7 148.1 L100.4 148.1 L101.1 148.0 L101.8 148.0 L102.6 148.0 L103.3 148.0 L104.0 147.9 L104.7 147.9 L105.4 147.9 L106.1 147.9 L106.8 147.8 L107.5 147.8 L108.2 147.8 L108.9 147.8 L109.7 147.7 L110.4 147.7 L111.1 147.7 L111.8 147.7 L112.5 147.6 L113.2 147.6 L113.9 147.6 L114.6 147.6 L115.3 147.6 L116.1 147.5 L116.8 147.5 L117.5 147.5 L118.2 147.5 L118.9 147.4 L119.6 147.4 L120.3 147.4 L121.0 147.4 L121.7 147.4 L122.4 147.3 L123.2 147.3 L123.9 147.3 L124.6 147.3 L125.3 147.3 L126.0 147.3 L126.7 147.2 L127.4 147.2 L128.1 147.2 L128.8 147.2 L129.6 147.2 L130.3 147.2 L131.0 147.1 L131.7 147.1 L132.4 147.1 L133.1 147.1 L133.8 147.1 L134.5 147.1 L135.2 147.1 L135.9 147.1 L136.7 147.1 L137.4 147.0 L138.1 147.0 L138.8 147.0 L139.5 147.0 L140.2 147.0 L140.9 147.0 L141.6 147.0 L142.3 147.0 L143.1 147.0 L143.8 147.0 L144.5 147.0 L145.2 147.0 L145.9 147.0 L146.6 147.0 L147.3 147.0 L148.0 147.0 L148.7 147.0 L149.4 147.1 L150.2 147.1 L150.9 147.1 L151.6 147.1 L152.3 147.2 L153.0 147.2 L153.7 147.2 L154.4 147.3 L155.1 147.3 L155.8 147.3 L156.6 147.3 L157.3 147.4 L158.0 147.4 L158.7 147.4 L159.4 147.5 L160.1 147.5 L160.8 147.5 L161.5 147.6 L162.2 147.6 L162.9 147.7 L163.7 147.7 L164.4 147.7 L165.1 147.8 L165.8 147.8 L166.5 147.9 L167.2 147.9 L167.9 148.0 L168.6 148.1 L169.3 148.1 L170.1 148.2 L170.8 148.2 L171.5 148.3 L172.2 148.3 L172.9 148.3 L173.6 148.4 L174.3 148.4 L175.0 148.5 L175.7 148.5 L176.4 148.5 L177.2 148.6 L177.9 148.6 L178.6 148.6 L179.3 148.6 L180.0 148.6 L180.7 148.6 L181.4 148.6 L182.1 148.6 L182.8 148.6 L183.6 148.6 L184.3 148.6 L185.0 148.5 L185.7 148.5 L186.4 148.5 L187.1 148.5 L187.8 148.5 L188.5 148.5 L189.2 148.4 L189.9 148.4 L190.7 148.4 L191.4 148.4 L192.1 148.3 L192.8 148.3 L193.5 148.3 L194.2 148.3 L194.9 148.2 L195.6 148.2 L196.3 148.2 L197.1 148.1 L197.8 148.1 L198.5 148.1 L199.2 148.0 L199.9 148.0 L200.6 148.0 L201.3 147.9 L202.0 147.9 L202.7 147.8 L203.4 147.8 L204.2 147.7 L204.9 147.7 L205.6 147.6 L206.3 147.6 L207.0 147.5 L207.7 147.4 L208.4 147.4 L209.1 147.3 L209.8 147.2 L210.6 147.1 L211.3 147.1 L212.0 147.0 L212.7 146.9 L213.4 146.9 L214.1 146.8 L214.8 146.7 L215.5 146.7 L216.2 146.6 L216.9 146.5 L217.7 146.5 L218.4 146.4 L219.1 146.4 L219.8 146.3 L220.5 146.3 L221.2 146.2 L221.9 146.2 L222.6 146.1 L223.3 146.1 L224.1 146.0 L224.8 146.0 L225.5 145.9 L226.2 145.9 L226.9 145.8 L227.6 145.8 L228.3 145.7 L229.0 145.7 L229.7 145.6 L230.4 145.6 L231.2 145.6 L231.9 145.6 L232.6 145.5 L233.3 145.5 L234.0 145.5 L234.7 145.5 L235.4 145.5 L236.1 145.5 L236.8 145.5 L237.6 145.6 L238.3 145.6 L239.0 145.7 L239.7 145.7 L240.4 145.8 L241.1 145.9 L241.8 145.9 L242.5 146.0 L243.2 146.1 L243.9 146.2 L244.7 146.3 L245.4 146.4 L246.1 146.5 L246.8 146.6 L247.5 146.7 L248.2 146.8 L248.9 146.9 L249.6 147.0 L250.3 147.0 L251.1 147.1 L251.8 147.2 L252.5 147.3 L253.2 147.4 L253.9 147.4 L254.6 147.5 L255.3 147.6 L256.0 147.7 L256.7 147.8 L257.4 147.9 L258.2 148.0 L258.9 148.1 L259.6 148.2 L260.3 148.3 L261.0 148.4 L261.7 148.5 L262.4 148.6 L263.1 148.8 L263.8 148.9 L264.6 149.0 L265.3 149.2 L266.0 149.4 L266.7 149.6 L267.4 149.8 L268.1 150.0 L268.8 150.3 L269.5 150.5 L270.2 150.8 L270.9 151.2 L271.7 151.5 L272.4 151.8 L273.1 152.2 L273.8 152.5 L274.5 152.9 L275.2 153.3 L275.9 153.7 L276.6 154.1 L277.3 154.5 L278.1 154.9 L278.8 155.3 L279.5 155.8 L280.2 156.3 L280.9 156.8 L281.6 157.4 L282.3 157.9 L283.0 158.5 L283.7 159.1 L284.4 159.7 L285.2 160.3 L285.9 160.9 L286.6 161.5 L287.3 162.1 L288.0 162.7 L288.7 163.3 L289.4 163.9 L290.1 164.5 L290.8 165.2 L291.6 165.8 L292.3 166.5 L293.0 167.3 L293.7 168.0 L294.4 168.9 L295.1 169.8 L295.8 170.7 L296.5 171.7 L297.2 172.8 L297.9 173.9 L298.7 175.1 L299.4 176.4 L300.1 177.7 L300.8 179.0 L301.5 180.4 L302.2 181.9 L302.9 183.5 L303.6 185.2 L304.3 187.0 L305.1 188.8 L305.8 190.6 L306.5 192.4 L307.2 194.2 L307.9 196.0 L308.6 197.8 L309.3 199.6 L310.0 201.4 L310.7 203.2 L311.4 205.0 L312.2 206.8 L312.9 208.6 L313.6 210.3 L314.3 212.0 L315.0 213.6 L315.7 215.1 L316.4 216.5 L317.1 218.0 L317.8 219.4 L318.6 220.9 L319.3 222.5 L320.0 224.2 L320.7 226.0 L321.4 228.0 L322.1 230.2 L322.8 232.5 L323.5 234.9 L324.2 237.3 L324.9 239.8 L325.7 242.2 L326.4 244.7 L327.1 247.1 L327.8 249.4 L328.5 251.7 L329.2 254.0 L329.9 256.3 L330.6 258.7 L331.3 261.0 L332.1 263.4 L332.8 265.9 L333.5 268.5 L334.2 271.2 L334.9 273.9 L335.6 276.6 L336.3 279.5 L337.0 282.4 L337.7 285.4 L338.4 288.4 L339.2 291.5 L339.9 294.7 L340.6 298.0 L341.3 301.5 L342.0 305.0" fill="none" stroke="#1c9a1c" stroke-width="2.7"/>
<path d="M58.5 133.8 L59.3 133.9 L60.1 133.9 L60.8 134.0 L61.6 134.1 L62.4 134.1 L63.2 134.2 L64.0 134.2 L64.7 134.3 L65.5 134.4 L66.3 134.4 L67.1 134.5 L67.9 134.5 L68.6 134.6 L69.4 134.6 L70.2 134.7 L71.0 134.7 L71.8 134.8 L72.5 134.9 L73.3 134.9 L74.1 134.9 L74.9 135.0 L75.6 135.0 L76.4 135.1 L77.2 135.1 L78.0 135.2 L78.8 135.2 L79.5 135.3 L80.3 135.3 L81.1 135.4 L81.9 135.4 L82.7 135.5 L83.4 135.5 L84.2 135.6 L85.0 135.6 L85.8 135.7 L86.6 135.7 L87.3 135.8 L88.1 135.8 L88.9 135.8 L89.7 135.9 L90.5 135.9 L91.2 135.9 L92.0 135.9 L92.8 136.0 L93.6 136.0 L94.4 136.0 L95.1 136.0 L95.9 136.0 L96.7 136.0 L97.5 136.0 L98.3 136.0 L99.0 135.9 L99.8 135.9 L100.6 135.9 L101.4 135.8 L102.1 135.8 L102.9 135.7 L103.7 135.7 L104.5 135.6 L105.3 135.6 L106.0 135.5 L106.8 135.4 L107.6 135.3 L108.4 135.3 L109.2 135.2 L109.9 135.1 L110.7 135.1 L111.5 135.0 L112.3 134.9 L113.1 134.9 L113.8 134.8 L114.6 134.7 L115.4 134.7 L116.2 134.6 L117.0 134.5 L117.7 134.5 L118.5 134.4 L119.3 134.4 L120.1 134.3 L120.9 134.2 L121.6 134.1 L122.4 134.1 L123.2 134.0 L124.0 133.9 L124.8 133.9 L125.5 133.8 L126.3 133.7 L127.1 133.7 L127.9 133.6 L128.7 133.5 L129.4 133.4 L130.2 133.4 L131.0 133.3 L131.8 133.2 L132.5 133.1 L133.3 133.1 L134.1 133.0 L134.9 132.9 L135.7 132.8 L136.4 132.8 L137.2 132.7 L138.0 132.6 L138.8 132.5 L139.6 132.5 L140.3 132.4 L141.1 132.3 L141.9 132.3 L142.7 132.2 L143.5 132.1 L144.2 132.1 L145.0 132.0 L145.8 131.9 L146.6 131.9 L147.4 131.8 L148.1 131.7 L148.9 131.6 L149.7 131.6 L150.5 131.5 L151.3 131.4 L152.0 131.3 L152.8 131.3 L153.6 131.2 L154.4 131.1 L155.2 131.1 L155.9 131.0 L156.7 131.0 L157.5 130.9 L158.3 130.9 L159.0 130.8 L159.8 130.8 L160.6 130.8 L161.4 130.8 L162.2 130.7 L162.9 130.7 L163.7 130.7 L164.5 130.7 L165.3 130.7 L166.1 130.6 L166.8 130.6 L167.6 130.6 L168.4 130.6 L169.2 130.6 L170.0 130.6 L170.7 130.6 L171.5 130.6 L172.3 130.7 L173.1 130.7 L173.9 130.8 L174.6 130.9 L175.4 130.9 L176.2 131.0 L177.0 131.1 L177.8 131.1 L178.5 131.2 L179.3 131.2 L180.1 131.2 L180.9 131.2 L181.7 131.2 L182.4 131.2 L183.2 131.2 L184.0 131.2 L184.8 131.1 L185.6 131.1 L186.3 131.1 L187.1 131.1 L187.9 131.1 L188.7 131.0 L189.4 131.0 L190.2 131.0 L191.0 131.0 L191.8 130.9 L192.6 130.9 L193.3 130.9 L194.1 130.9 L194.9 130.9 L195.7 130.8 L196.5 130.8 L197.2 130.8 L198.0 130.8 L198.8 130.8 L199.6 130.8 L200.4 130.8 L201.1 130.8 L201.9 130.8 L202.7 130.8 L203.5 130.8 L204.3 130.8 L205.0 130.8 L205.8 130.8 L206.6 130.8 L207.4 130.8 L208.2 130.8 L208.9 130.8 L209.7 130.8 L210.5 130.8 L211.3 130.8 L212.1 130.8 L212.8 130.8 L213.6 130.8 L214.4 130.8 L215.2 130.9 L215.9 130.9 L216.7 130.9 L217.5 130.9 L218.3 130.9 L219.1 130.9 L219.8 130.9 L220.6 130.9 L221.4 131.0 L222.2 131.1 L223.0 131.2 L223.7 131.2 L224.5 131.3 L225.3 131.3 L226.1 131.3 L226.9 131.2 L227.6 131.1 L228.4 131.0 L229.2 130.8 L230.0 130.6 L230.8 130.4 L231.5 130.2 L232.3 130.0 L233.1 129.7 L233.9 129.5 L234.7 129.2 L235.4 129.0 L236.2 128.7 L237.0 128.5 L237.8 128.3 L238.6 128.0 L239.3 127.7 L240.1 127.4 L240.9 127.0 L241.7 126.7 L242.4 126.4 L243.2 126.0 L244.0 125.6 L244.8 125.2 L245.6 124.9 L246.3 124.5 L247.1 124.1 L247.9 123.7 L248.7 123.3 L249.5 123.0 L250.2 122.6 L251.0 122.2 L251.8 121.8 L252.6 121.4 L253.4 121.0 L254.1 120.6 L254.9 120.2 L255.7 119.8 L256.5 119.4 L257.3 119.0 L258.0 118.6 L258.8 118.3 L259.6 117.9 L260.4 117.5 L261.2 117.1 L261.9 116.7 L262.7 116.4 L263.5 116.0 L264.3 115.7 L265.1 115.3 L265.8 115.0 L266.6 114.6 L267.4 114.3 L268.2 113.9 L269.0 113.6 L269.7 113.3 L270.5 113.0 L271.3 112.7 L272.1 112.3 L272.8 112.0 L273.6 111.6 L274.4 111.3 L275.2 110.9 L276.0 110.6 L276.7 110.3 L277.5 109.9 L278.3 109.6 L279.1 109.3 L279.9 109.0 L280.6 108.8 L281.4 108.5 L282.2 108.3 L283.0 108.2 L283.8 108.0 L284.5 107.9 L285.3 107.9 L286.1 107.8 L286.9 107.8 L287.7 107.7 L288.4 107.7 L289.2 107.7 L290.0 107.6 L290.8 107.6 L291.6 107.6 L292.3 107.6 L293.1 107.7 L293.9 107.8 L294.7 108.0 L295.5 108.2 L296.2 108.5 L297.0 108.8 L297.8 109.2 L298.6 109.5 L299.3 109.9 L300.1 110.2 L300.9 110.6 L301.7 111.0 L302.5 111.5 L303.2 112.0 L304.0 112.5 L304.8 113.1 L305.6 113.7 L306.4 114.4 L307.1 115.1 L307.9 115.8 L308.7 116.6 L309.5 117.5 L310.3 118.3 L311.0 119.2 L311.8 120.1 L312.6 121.0 L313.4 121.9 L314.2 122.9 L314.9 123.8 L315.7 124.8 L316.5 125.7 L317.3 126.8 L318.1 127.8 L318.8 128.9 L319.6 130.0 L320.4 131.1 L321.2 132.3 L322.0 133.5 L322.7 134.8 L323.5 136.1 L324.3 137.5 L325.1 139.0 L325.9 140.6 L326.6 142.2 L327.4 143.9 L328.2 145.7 L329.0 147.5 L329.7 149.3 L330.5 151.3 L331.3 153.4 L332.1 155.6 L332.9 157.8 L333.6 160.1 L334.4 162.5 L335.2 164.9 L336.0 167.4 L336.8 170.1 L337.5 172.9 L338.3 176.3 L339.1 179.8 L339.9 182.9 L340.7 185.7 L341.4 188.3 L342.2 190.9 L343.0 193.4 L343.8 195.9 L344.6 198.3 L345.3 200.8 L346.1 203.3 L346.9 205.9 L347.7 208.4 L348.5 210.9 L349.2 213.3 L350.0 215.8 L350.8 218.4 L351.6 221.0 L352.4 223.8 L353.1 226.7 L353.9 229.8 L354.7 233.1 L355.5 236.6 L356.2 240.2 L357.0 243.9 L357.8 247.6 L358.6 251.4 L359.4 255.2 L360.1 258.9 L360.9 262.6 L361.7 266.4 L362.5 270.2 L363.3 274.1 L364.0 277.9 L364.8 281.8 L365.6 285.7 L366.4 289.5 L367.2 293.4 L367.9 297.3 L368.7 301.1 L369.5 305.0" fill="none" stroke="#f0a21c" stroke-width="1.25"/>
<path d="M58.5 163.0 L59.1 163.0 L59.8 163.0 L60.4 163.0 L61.1 163.0 L61.7 163.0 L62.4 163.0 L63.0 163.0 L63.6 163.0 L64.3 162.9 L64.9 162.9 L65.6 162.9 L66.2 162.9 L66.9 162.9 L67.5 162.9 L68.1 162.8 L68.8 162.8 L69.4 162.8 L70.1 162.8 L70.7 162.7 L71.4 162.7 L72.0 162.7 L72.6 162.7 L73.3 162.6 L73.9 162.6 L74.6 162.6 L75.2 162.5 L75.9 162.5 L76.5 162.5 L77.1 162.4 L77.8 162.4 L78.4 162.3 L79.1 162.3 L79.7 162.3 L80.4 162.2 L81.0 162.2 L81.6 162.1 L82.3 162.1 L82.9 162.1 L83.6 162.0 L84.2 162.0 L84.9 161.9 L85.5 161.9 L86.1 161.8 L86.8 161.8 L87.4 161.7 L88.1 161.7 L88.7 161.6 L89.4 161.6 L90.0 161.5 L90.6 161.5 L91.3 161.4 L91.9 161.4 L92.6 161.3 L93.2 161.2 L93.9 161.2 L94.5 161.1 L95.1 161.1 L95.8 161.0 L96.4 161.0 L97.1 160.9 L97.7 160.8 L98.4 160.7 L99.0 160.6 L99.6 160.5 L100.3 160.3 L100.9 160.2 L101.6 160.1 L102.2 159.9 L102.9 159.8 L103.5 159.6 L104.1 159.5 L104.8 159.3 L105.4 159.1 L106.1 159.0 L106.7 158.8 L107.4 158.7 L108.0 158.5 L108.6 158.3 L109.3 158.2 L109.9 158.1 L110.6 157.9 L111.2 157.8 L111.9 157.7 L112.5 157.6 L113.1 157.5 L113.8 157.4 L114.4 157.3 L115.1 157.3 L115.7 157.2 L116.4 157.2 L117.0 157.2 L117.6 157.1 L118.3 157.1 L118.9 157.0 L119.6 157.0 L120.2 157.0 L120.9 156.9 L121.5 156.9 L122.1 156.9 L122.8 156.8 L123.4 156.8 L124.1 156.8 L124.7 156.7 L125.4 156.7 L126.0 156.7 L126.6 156.6 L127.3 156.6 L127.9 156.6 L128.6 156.6 L129.2 156.5 L129.9 156.5 L130.5 156.5 L131.1 156.5 L131.8 156.4 L132.4 156.4 L133.1 156.4 L133.7 156.4 L134.4 156.4 L135.0 156.3 L135.6 156.3 L136.3 156.3 L136.9 156.3 L137.6 156.3 L138.2 156.2 L138.9 156.2 L139.5 156.2 L140.1 156.2 L140.8 156.1 L141.4 156.1 L142.1 156.1 L142.7 156.1 L143.4 156.1 L144.0 156.0 L144.6 156.0 L145.3 156.0 L145.9 156.0 L146.6 155.9 L147.2 155.9 L147.9 155.9 L148.5 155.9 L149.1 155.8 L149.8 155.8 L150.4 155.8 L151.1 155.7 L151.7 155.7 L152.4 155.7 L153.0 155.7 L153.6 155.6 L154.3 155.6 L154.9 155.6 L155.6 155.6 L156.2 155.6 L156.9 155.5 L157.5 155.5 L158.1 155.5 L158.8 155.5 L159.4 155.5 L160.1 155.5 L160.7 155.5 L161.4 155.5 L162.0 155.5 L162.6 155.6 L163.3 155.6 L163.9 155.6 L164.6 155.7 L165.2 155.7 L165.9 155.8 L166.5 155.8 L167.1 155.9 L167.8 156.0 L168.4 156.0 L169.1 156.1 L169.7 156.2 L170.4 156.3 L171.0 156.4 L171.6 156.4 L172.3 156.5 L172.9 156.6 L173.6 156.7 L174.2 156.8 L174.9 156.8 L175.5 156.9 L176.1 157.0 L176.8 157.1 L177.4 157.1 L178.1 157.2 L178.7 157.3 L179.4 157.3 L180.0 157.4 L180.6 157.5 L181.3 157.5 L181.9 157.6 L182.6 157.6 L183.2 157.7 L183.9 157.7 L184.5 157.8 L185.1 157.8 L185.8 157.9 L186.4 157.9 L187.1 158.0 L187.7 158.0 L188.4 158.1 L189.0 158.1 L189.6 158.1 L190.3 158.2 L190.9 158.2 L191.6 158.3 L192.2 158.3 L192.9 158.4 L193.5 158.4 L194.1 158.5 L194.8 158.5 L195.4 158.6 L196.1 158.6 L196.7 158.7 L197.4 158.8 L198.0 158.8 L198.6 158.9 L199.3 158.9 L199.9 159.0 L200.6 159.1 L201.2 159.1 L201.9 159.2 L202.5 159.3 L203.1 159.3 L203.8 159.4 L204.4 159.5 L205.1 159.5 L205.7 159.6 L206.4 159.7 L207.0 159.7 L207.6 159.8 L208.3 159.9 L208.9 160.0 L209.6 160.0 L210.2 160.1 L210.9 160.2 L211.5 160.3 L212.1 160.4 L212.8 160.5 L213.4 160.5 L214.1 160.6 L214.7 160.7 L215.4 160.8 L216.0 160.9 L216.6 161.0 L217.3 161.1 L217.9 161.2 L218.6 161.3 L219.2 161.4 L219.9 161.5 L220.5 161.6 L221.1 161.7 L221.8 161.8 L222.4 161.9 L223.1 162.0 L223.7 162.1 L224.4 162.3 L225.0 162.4 L225.6 162.5 L226.3 162.7 L226.9 162.8 L227.6 162.9 L228.2 163.1 L228.9 163.2 L229.5 163.4 L230.1 163.5 L230.8 163.7 L231.4 163.8 L232.1 164.0 L232.7 164.1 L233.4 164.3 L234.0 164.5 L234.6 164.6 L235.3 164.8 L235.9 165.0 L236.6 165.2 L237.2 165.4 L237.9 165.6 L238.5 165.8 L239.1 166.1 L239.8 166.3 L240.4 166.6 L241.1 166.9 L241.7 167.3 L242.4 167.7 L243.0 168.2 L243.6 168.7 L244.3 169.2 L244.9 169.7 L245.6 170.2 L246.2 170.8 L246.9 171.4 L247.5 171.9 L248.1 172.5 L248.8 173.0 L249.4 173.6 L250.1 174.1 L250.7 174.7 L251.4 175.2 L252.0 175.8 L252.6 176.4 L253.3 177.0 L253.9 177.6 L254.6 178.2 L255.2 178.8 L255.9 179.4 L256.5 180.0 L257.1 180.7 L257.8 181.3 L258.4 181.9 L259.1 182.5 L259.7 183.2 L260.4 183.8 L261.0 184.5 L261.6 185.1 L262.3 185.8 L262.9 186.4 L263.6 187.1 L264.2 187.8 L264.9 188.4 L265.5 189.1 L266.1 189.8 L266.8 190.5 L267.4 191.1 L268.1 191.8 L268.7 192.5 L269.4 193.2 L270.0 193.9 L270.6 194.7 L271.3 195.5 L271.9 196.4 L272.6 197.3 L273.2 198.3 L273.9 199.2 L274.5 200.2 L275.1 201.3 L275.8 202.3 L276.4 203.4 L277.1 204.4 L277.7 205.5 L278.4 206.6 L279.0 207.7 L279.6 208.7 L280.3 209.8 L280.9 210.9 L281.6 212.0 L282.2 213.1 L282.9 214.2 L283.5 215.4 L284.1 216.5 L284.8 217.7 L285.4 218.9 L286.1 220.1 L286.7 221.3 L287.4 222.6 L288.0 223.9 L288.6 225.2 L289.3 226.6 L289.9 228.0 L290.6 229.5 L291.2 231.0 L291.9 232.6 L292.5 234.2 L293.1 235.8 L293.8 237.5 L294.4 239.2 L295.1 240.9 L295.7 242.6 L296.4 244.3 L297.0 246.0 L297.6 247.7 L298.3 249.4 L298.9 251.2 L299.6 252.9 L300.2 254.6 L300.9 256.4 L301.5 258.2 L302.1 260.0 L302.8 261.9 L303.4 263.8 L304.1 265.7 L304.7 267.7 L305.4 269.7 L306.0 271.8 L306.6 274.0 L307.3 276.2 L307.9 278.4 L308.6 280.7 L309.2 283.1 L309.9 285.4 L310.5 287.8 L311.1 290.2 L311.8 292.5 L312.4 295.0 L313.1 297.4 L313.7 299.9 L314.4 302.4 L315.0 305.0" fill="none" stroke="#f0a21c" stroke-width="1.25"/>
<path d="M58.5 149.4 L59.2 149.4 L59.9 149.4 L60.6 149.3 L61.3 149.3 L62.0 149.3 L62.7 149.3 L63.4 149.2 L64.1 149.2 L64.8 149.2 L65.6 149.1 L66.3 149.1 L67.0 149.1 L67.7 149.0 L68.4 149.0 L69.1 149.0 L69.8 148.9 L70.5 148.9 L71.2 148.9 L71.9 148.8 L72.6 148.8 L73.3 148.8 L74.0 148.7 L74.7 148.7 L75.4 148.7 L76.1 148.6 L76.8 148.6 L77.5 148.5 L78.2 148.5 L78.9 148.4 L79.7 148.4 L80.4 148.4 L81.1 148.3 L81.8 148.3 L82.5 148.2 L83.2 148.2 L83.9 148.1 L84.6 148.1 L85.3 148.0 L86.0 148.0 L86.7 148.0 L87.4 147.9 L88.1 147.9 L88.8 147.8 L89.5 147.8 L90.2 147.7 L90.9 147.7 L91.6 147.6 L92.3 147.6 L93.0 147.5 L93.8 147.5 L94.5 147.4 L95.2 147.4 L95.9 147.3 L96.6 147.3 L97.3 147.2 L98.0 147.1 L98.7 147.1 L99.4 147.0 L100.1 146.9 L100.8 146.9 L101.5 146.8 L102.2 146.7 L102.9 146.7 L103.6 146.6 L104.3 146.5 L105.0 146.4 L105.7 146.4 L106.4 146.3 L107.1 146.2 L107.9 146.1 L108.6 146.1 L109.3 146.0 L110.0 145.9 L110.7 145.9 L111.4 145.8 L112.1 145.7 L112.8 145.7 L113.5 145.6 L114.2 145.6 L114.9 145.5 L115.6 145.5 L116.3 145.4 L117.0 145.4 L117.7 145.3 L118.4 145.3 L119.1 145.2 L119.8 145.2 L120.5 145.2 L121.2 145.1 L122.0 145.1 L122.7 145.0 L123.4 145.0 L124.1 145.0 L124.8 144.9 L125.5 144.9 L126.2 144.9 L126.9 144.8 L127.6 144.8 L128.3 144.8 L129.0 144.7 L129.7 144.7 L130.4 144.7 L131.1 144.6 L131.8 144.6 L132.5 144.6 L133.2 144.5 L133.9 144.5 L134.6 144.5 L135.3 144.4 L136.1 144.4 L136.8 144.4 L137.5 144.3 L138.2 144.3 L138.9 144.3 L139.6 144.3 L140.3 144.2 L141.0 144.2 L141.7 144.2 L142.4 144.1 L143.1 144.1 L143.8 144.1 L144.5 144.0 L145.2 144.0 L145.9 144.0 L146.6 143.9 L147.3 143.9 L148.0 143.8 L148.7 143.8 L149.4 143.7 L150.2 143.7 L150.9 143.7 L151.6 143.6 L152.3 143.6 L153.0 143.5 L153.7 143.5 L154.4 143.5 L155.1 143.4 L155.8 143.4 L156.5 143.4 L157.2 143.3 L157.9 143.3 L158.6 143.3 L159.3 143.3 L160.0 143.3 L160.7 143.3 L161.4 143.3 L162.1 143.3 L162.8 143.3 L163.5 143.3 L164.3 143.4 L165.0 143.4 L165.7 143.4 L166.4 143.4 L167.1 143.5 L167.8 143.5 L168.5 143.5 L169.2 143.6 L169.9 143.6 L170.6 143.6 L171.3 143.7 L172.0 143.7 L172.7 143.8 L173.4 143.8 L174.1 143.9 L174.8 143.9 L175.5 143.9 L176.2 144.0 L176.9 144.0 L177.6 144.1 L178.4 144.1 L179.1 144.1 L179.8 144.2 L180.5 144.2 L181.2 144.3 L181.9 144.3 L182.6 144.3 L183.3 144.4 L184.0 144.4 L184.7 144.5 L185.4 144.5 L186.1 144.6 L186.8 144.6 L187.5 144.6 L188.2 144.7 L188.9 144.7 L189.6 144.8 L190.3 144.8 L191.0 144.9 L191.7 144.9 L192.5 145.0 L193.2 145.0 L193.9 145.1 L194.6 145.1 L195.3 145.2 L196.0 145.2 L196.7 145.3 L197.4 145.3 L198.1 145.4 L198.8 145.4 L199.5 145.5 L200.2 145.5 L200.9 145.6 L201.6 145.6 L202.3 145.7 L203.0 145.7 L203.7 145.8 L204.4 145.8 L205.1 145.9 L205.8 145.9 L206.6 146.0 L207.3 146.1 L208.0 146.1 L208.7 146.2 L209.4 146.2 L210.1 146.3 L210.8 146.3 L211.5 146.4 L212.2 146.5 L212.9 146.5 L213.6 146.6 L214.3 146.6 L215.0 146.7 L215.7 146.7 L216.4 146.8 L217.1 146.8 L217.8 146.9 L218.5 146.9 L219.2 147.0 L219.9 147.0 L220.7 147.0 L221.4 147.1 L222.1 147.1 L222.8 147.1 L223.5 147.2 L224.2 147.2 L224.9 147.2 L225.6 147.3 L226.3 147.3 L227.0 147.3 L227.7 147.4 L228.4 147.4 L229.1 147.4 L229.8 147.4 L230.5 147.5 L231.2 147.5 L231.9 147.5 L232.6 147.6 L233.3 147.6 L234.0 147.6 L234.8 147.7 L235.5 147.7 L236.2 147.8 L236.9 147.8 L237.6 147.9 L238.3 147.9 L239.0 148.0 L239.7 148.0 L240.4 148.1 L241.1 148.1 L241.8 148.2 L242.5 148.3 L243.2 148.3 L243.9 148.4 L244.6 148.4 L245.3 148.5 L246.0 148.6 L246.7 148.7 L247.4 148.7 L248.1 148.8 L248.9 148.9 L249.6 149.0 L250.3 149.0 L251.0 149.1 L251.7 149.2 L252.4 149.3 L253.1 149.4 L253.8 149.5 L254.5 149.5 L255.2 149.6 L255.9 149.7 L256.6 149.8 L257.3 150.0 L258.0 150.1 L258.7 150.2 L259.4 150.3 L260.1 150.4 L260.8 150.5 L261.5 150.7 L262.2 150.8 L263.0 151.0 L263.7 151.1 L264.4 151.3 L265.1 151.4 L265.8 151.6 L266.5 151.8 L267.2 152.0 L267.9 152.3 L268.6 152.5 L269.3 152.8 L270.0 153.1 L270.7 153.4 L271.4 153.7 L272.1 154.0 L272.8 154.3 L273.5 154.7 L274.2 155.0 L274.9 155.4 L275.6 155.8 L276.3 156.2 L277.1 156.6 L277.8 157.0 L278.5 157.5 L279.2 157.9 L279.9 158.4 L280.6 159.0 L281.3 159.6 L282.0 160.1 L282.7 160.8 L283.4 161.4 L284.1 162.1 L284.8 162.7 L285.5 163.4 L286.2 164.1 L286.9 164.8 L287.6 165.6 L288.3 166.4 L289.0 167.3 L289.7 168.2 L290.4 169.1 L291.2 170.0 L291.9 171.0 L292.6 172.0 L293.3 172.9 L294.0 173.9 L294.7 174.8 L295.4 175.8 L296.1 176.8 L296.8 177.9 L297.5 179.0 L298.2 180.1 L298.9 181.3 L299.6 182.7 L300.3 184.1 L301.0 185.7 L301.7 187.3 L302.4 189.0 L303.1 190.7 L303.8 192.4 L304.5 194.0 L305.3 195.6 L306.0 197.1 L306.7 198.6 L307.4 200.1 L308.1 201.5 L308.8 203.0 L309.5 204.5 L310.2 206.0 L310.9 207.5 L311.6 209.1 L312.3 210.7 L313.0 212.3 L313.7 213.9 L314.4 215.5 L315.1 217.1 L315.8 218.8 L316.5 220.6 L317.2 222.4 L317.9 224.3 L318.6 226.3 L319.4 228.4 L320.1 230.7 L320.8 233.1 L321.5 235.5 L322.2 238.0 L322.9 240.5 L323.6 243.0 L324.3 245.4 L325.0 247.8 L325.7 250.1 L326.4 252.4 L327.1 254.7 L327.8 257.0 L328.5 259.3 L329.2 261.7 L329.9 264.1 L330.6 266.5 L331.3 269.1 L332.0 271.8 L332.7 274.5 L333.5 277.3 L334.2 280.2 L334.9 283.1 L335.6 286.0 L336.3 289.0 L337.0 292.1 L337.7 295.2 L338.4 298.4 L339.1 301.7 L339.8 305.0" fill="none" stroke="#f0a21c" stroke-width="2.8"/>
</g>
<rect x="58.4" y="1.4" width="345.35" height="293.5" fill="none" stroke="#000" stroke-width="1.55"/>
<line x1="58.40" y1="274.00" x2="66.40" y2="274.00" stroke="#000" stroke-width="1.4"/>
<line x1="403.75" y1="274.00" x2="395.75" y2="274.00" stroke="#000" stroke-width="1.4"/>
<line x1="58.40" y1="253.00" x2="62.40" y2="253.00" stroke="#000" stroke-width="1.4"/>
<line x1="403.75" y1="253.00" x2="399.75" y2="253.00" stroke="#000" stroke-width="1.4"/>
<line x1="58.40" y1="232.00" x2="66.40" y2="232.00" stroke="#000" stroke-width="1.4"/>
<line x1="403.75" y1="232.00" x2="395.75" y2="232.00" stroke="#000" stroke-width="1.4"/>
<line x1="58.40" y1="211.00" x2="62.40" y2="211.00" stroke="#000" stroke-width="1.4"/>
<line x1="403.75" y1="211.00" x2="399.75" y2="211.00" stroke="#000" stroke-width="1.4"/>
<line x1="58.40" y1="190.00" x2="66.40" y2="190.00" stroke="#000" stroke-width="1.4"/>
<line x1="403.75" y1="190.00" x2="395.75" y2="190.00" stroke="#000" stroke-width="1.4"/>
<line x1="58.40" y1="169.00" x2="62.40" y2="169.00" stroke="#000" stroke-width="1.4"/>
<line x1="403.75" y1="169.00" x2="399.75" y2="169.00" stroke="#000" stroke-width="1.4"/>
<line x1="58.40" y1="148.00" x2="66.40" y2="148.00" stroke="#000" stroke-width="1.4"/>
<line x1="403.75" y1="148.00" x2="395.75" y2="148.00" stroke="#000" stroke-width="1.4"/>
<line x1="58.40" y1="127.00" x2="62.40" y2="127.00" stroke="#000" stroke-width="1.4"/>
<line x1="403.75" y1="127.00" x2="399.75" y2="127.00" stroke="#000" stroke-width="1.4"/>
<line x1="58.40" y1="106.00" x2="66.40" y2="106.00" stroke="#000" stroke-width="1.4"/>
<line x1="403.75" y1="106.00" x2="395.75" y2="106.00" stroke="#000" stroke-width="1.4"/>
<line x1="58.40" y1="85.00" x2="62.40" y2="85.00" stroke="#000" stroke-width="1.4"/>
<line x1="403.75" y1="85.00" x2="399.75" y2="85.00" stroke="#000" stroke-width="1.4"/>
<line x1="58.40" y1="64.00" x2="66.40" y2="64.00" stroke="#000" stroke-width="1.4"/>
<line x1="403.75" y1="64.00" x2="395.75" y2="64.00" stroke="#000" stroke-width="1.4"/>
<line x1="58.40" y1="43.00" x2="62.40" y2="43.00" stroke="#000" stroke-width="1.4"/>
<line x1="403.75" y1="43.00" x2="399.75" y2="43.00" stroke="#000" stroke-width="1.4"/>
<line x1="58.40" y1="22.00" x2="66.40" y2="22.00" stroke="#000" stroke-width="1.4"/>
<line x1="403.75" y1="22.00" x2="395.75" y2="22.00" stroke="#000" stroke-width="1.4"/>
<line x1="64.56" y1="294.90" x2="64.56" y2="286.90" stroke="#000" stroke-width="1.4"/>
<line x1="64.56" y1="1.40" x2="64.56" y2="9.40" stroke="#000" stroke-width="1.4"/>
<line x1="76.70" y1="294.90" x2="76.70" y2="286.90" stroke="#000" stroke-width="1.4"/>
<line x1="76.70" y1="1.40" x2="76.70" y2="9.40" stroke="#000" stroke-width="1.4"/>
<line x1="100.19" y1="294.90" x2="100.19" y2="286.90" stroke="#000" stroke-width="1.4"/>
<line x1="100.19" y1="1.40" x2="100.19" y2="9.40" stroke="#000" stroke-width="1.4"/>
<line x1="145.64" y1="294.90" x2="145.64" y2="286.90" stroke="#000" stroke-width="1.4"/>
<line x1="145.64" y1="1.40" x2="145.64" y2="9.40" stroke="#000" stroke-width="1.4"/>
<line x1="233.58" y1="294.90" x2="233.58" y2="286.90" stroke="#000" stroke-width="1.4"/>
<line x1="233.58" y1="1.40" x2="233.58" y2="9.40" stroke="#000" stroke-width="1.4"/>
<line x1="273.59" y1="294.90" x2="273.59" y2="286.90" stroke="#000" stroke-width="1.4"/>
<line x1="273.59" y1="1.40" x2="273.59" y2="9.40" stroke="#000" stroke-width="1.4"/>
<line x1="322.39" y1="294.90" x2="322.39" y2="286.90" stroke="#000" stroke-width="1.4"/>
<line x1="322.39" y1="1.40" x2="322.39" y2="9.40" stroke="#000" stroke-width="1.4"/>
<line x1="369.51" y1="294.90" x2="369.51" y2="286.90" stroke="#000" stroke-width="1.4"/>
<line x1="369.51" y1="1.40" x2="369.51" y2="9.40" stroke="#000" stroke-width="1.4"/>
<line x1="59.76" y1="294.90" x2="59.76" y2="290.90" stroke="#000" stroke-width="1.4"/>
<line x1="59.76" y1="1.40" x2="59.76" y2="5.40" stroke="#000" stroke-width="1.4"/>
<line x1="60.77" y1="294.90" x2="60.77" y2="290.90" stroke="#000" stroke-width="1.4"/>
<line x1="60.77" y1="1.40" x2="60.77" y2="5.40" stroke="#000" stroke-width="1.4"/>
<line x1="61.56" y1="294.90" x2="61.56" y2="290.90" stroke="#000" stroke-width="1.4"/>
<line x1="61.56" y1="1.40" x2="61.56" y2="5.40" stroke="#000" stroke-width="1.4"/>
<line x1="62.22" y1="294.90" x2="62.22" y2="290.90" stroke="#000" stroke-width="1.4"/>
<line x1="62.22" y1="1.40" x2="62.22" y2="5.40" stroke="#000" stroke-width="1.4"/>
<line x1="62.79" y1="294.90" x2="62.79" y2="290.90" stroke="#000" stroke-width="1.4"/>
<line x1="62.79" y1="1.40" x2="62.79" y2="5.40" stroke="#000" stroke-width="1.4"/>
<line x1="63.29" y1="294.90" x2="63.29" y2="290.90" stroke="#000" stroke-width="1.4"/>
<line x1="63.29" y1="1.40" x2="63.29" y2="5.40" stroke="#000" stroke-width="1.4"/>
<line x1="63.75" y1="294.90" x2="63.75" y2="290.90" stroke="#000" stroke-width="1.4"/>
<line x1="63.75" y1="1.40" x2="63.75" y2="5.40" stroke="#000" stroke-width="1.4"/>
<line x1="64.17" y1="294.90" x2="64.17" y2="290.90" stroke="#000" stroke-width="1.4"/>
<line x1="64.17" y1="1.40" x2="64.17" y2="5.40" stroke="#000" stroke-width="1.4"/>
<line x1="67.41" y1="294.90" x2="67.41" y2="290.90" stroke="#000" stroke-width="1.4"/>
<line x1="67.41" y1="1.40" x2="67.41" y2="5.40" stroke="#000" stroke-width="1.4"/>
<line x1="69.36" y1="294.90" x2="69.36" y2="290.90" stroke="#000" stroke-width="1.4"/>
<line x1="69.36" y1="1.40" x2="69.36" y2="5.40" stroke="#000" stroke-width="1.4"/>
<line x1="70.89" y1="294.90" x2="70.89" y2="290.90" stroke="#000" stroke-width="1.4"/>
<line x1="70.89" y1="1.40" x2="70.89" y2="5.40" stroke="#000" stroke-width="1.4"/>
<line x1="72.17" y1="294.90" x2="72.17" y2="290.90" stroke="#000" stroke-width="1.4"/>
<line x1="72.17" y1="1.40" x2="72.17" y2="5.40" stroke="#000" stroke-width="1.4"/>
<line x1="73.27" y1="294.90" x2="73.27" y2="290.90" stroke="#000" stroke-width="1.4"/>
<line x1="73.27" y1="1.40" x2="73.27" y2="5.40" stroke="#000" stroke-width="1.4"/>
<line x1="74.26" y1="294.90" x2="74.26" y2="290.90" stroke="#000" stroke-width="1.4"/>
<line x1="74.26" y1="1.40" x2="74.26" y2="5.40" stroke="#000" stroke-width="1.4"/>
<line x1="75.14" y1="294.90" x2="75.14" y2="290.90" stroke="#000" stroke-width="1.4"/>
<line x1="75.14" y1="1.40" x2="75.14" y2="5.40" stroke="#000" stroke-width="1.4"/>
<line x1="75.95" y1="294.90" x2="75.95" y2="290.90" stroke="#000" stroke-width="1.4"/>
<line x1="75.95" y1="1.40" x2="75.95" y2="5.40" stroke="#000" stroke-width="1.4"/>
<line x1="82.22" y1="294.90" x2="82.22" y2="290.90" stroke="#000" stroke-width="1.4"/>
<line x1="82.22" y1="1.40" x2="82.22" y2="5.40" stroke="#000" stroke-width="1.4"/>
<line x1="86.00" y1="294.90" x2="86.00" y2="290.90" stroke="#000" stroke-width="1.4"/>
<line x1="86.00" y1="1.40" x2="86.00" y2="5.40" stroke="#000" stroke-width="1.4"/>
<line x1="88.96" y1="294.90" x2="88.96" y2="290.90" stroke="#000" stroke-width="1.4"/>
<line x1="88.96" y1="1.40" x2="88.96" y2="5.40" stroke="#000" stroke-width="1.4"/>
<line x1="91.43" y1="294.90" x2="91.43" y2="290.90" stroke="#000" stroke-width="1.4"/>
<line x1="91.43" y1="1.40" x2="91.43" y2="5.40" stroke="#000" stroke-width="1.4"/>
<line x1="93.57" y1="294.90" x2="93.57" y2="290.90" stroke="#000" stroke-width="1.4"/>
<line x1="93.57" y1="1.40" x2="93.57" y2="5.40" stroke="#000" stroke-width="1.4"/>
<line x1="95.46" y1="294.90" x2="95.46" y2="290.90" stroke="#000" stroke-width="1.4"/>
<line x1="95.46" y1="1.40" x2="95.46" y2="5.40" stroke="#000" stroke-width="1.4"/>
<line x1="97.18" y1="294.90" x2="97.18" y2="290.90" stroke="#000" stroke-width="1.4"/>
<line x1="97.18" y1="1.40" x2="97.18" y2="5.40" stroke="#000" stroke-width="1.4"/>
<line x1="98.74" y1="294.90" x2="98.74" y2="290.90" stroke="#000" stroke-width="1.4"/>
<line x1="98.74" y1="1.40" x2="98.74" y2="5.40" stroke="#000" stroke-width="1.4"/>
<line x1="110.88" y1="294.90" x2="110.88" y2="290.90" stroke="#000" stroke-width="1.4"/>
<line x1="110.88" y1="1.40" x2="110.88" y2="5.40" stroke="#000" stroke-width="1.4"/>
<line x1="118.18" y1="294.90" x2="118.18" y2="290.90" stroke="#000" stroke-width="1.4"/>
<line x1="118.18" y1="1.40" x2="118.18" y2="5.40" stroke="#000" stroke-width="1.4"/>
<line x1="123.91" y1="294.90" x2="123.91" y2="290.90" stroke="#000" stroke-width="1.4"/>
<line x1="123.91" y1="1.40" x2="123.91" y2="5.40" stroke="#000" stroke-width="1.4"/>
<line x1="128.69" y1="294.90" x2="128.69" y2="290.90" stroke="#000" stroke-width="1.4"/>
<line x1="128.69" y1="1.40" x2="128.69" y2="5.40" stroke="#000" stroke-width="1.4"/>
<line x1="132.83" y1="294.90" x2="132.83" y2="290.90" stroke="#000" stroke-width="1.4"/>
<line x1="132.83" y1="1.40" x2="132.83" y2="5.40" stroke="#000" stroke-width="1.4"/>
<line x1="136.50" y1="294.90" x2="136.50" y2="290.90" stroke="#000" stroke-width="1.4"/>
<line x1="136.50" y1="1.40" x2="136.50" y2="5.40" stroke="#000" stroke-width="1.4"/>
<line x1="139.81" y1="294.90" x2="139.81" y2="290.90" stroke="#000" stroke-width="1.4"/>
<line x1="139.81" y1="1.40" x2="139.81" y2="5.40" stroke="#000" stroke-width="1.4"/>
<line x1="142.84" y1="294.90" x2="142.84" y2="290.90" stroke="#000" stroke-width="1.4"/>
<line x1="142.84" y1="1.40" x2="142.84" y2="5.40" stroke="#000" stroke-width="1.4"/>
<line x1="166.32" y1="294.90" x2="166.32" y2="290.90" stroke="#000" stroke-width="1.4"/>
<line x1="166.32" y1="1.40" x2="166.32" y2="5.40" stroke="#000" stroke-width="1.4"/>
<line x1="180.46" y1="294.90" x2="180.46" y2="290.90" stroke="#000" stroke-width="1.4"/>
<line x1="180.46" y1="1.40" x2="180.46" y2="5.40" stroke="#000" stroke-width="1.4"/>
<line x1="191.54" y1="294.90" x2="191.54" y2="290.90" stroke="#000" stroke-width="1.4"/>
<line x1="191.54" y1="1.40" x2="191.54" y2="5.40" stroke="#000" stroke-width="1.4"/>
<line x1="200.78" y1="294.90" x2="200.78" y2="290.90" stroke="#000" stroke-width="1.4"/>
<line x1="200.78" y1="1.40" x2="200.78" y2="5.40" stroke="#000" stroke-width="1.4"/>
<line x1="208.79" y1="294.90" x2="208.79" y2="290.90" stroke="#000" stroke-width="1.4"/>
<line x1="208.79" y1="1.40" x2="208.79" y2="5.40" stroke="#000" stroke-width="1.4"/>
<line x1="215.89" y1="294.90" x2="215.89" y2="290.90" stroke="#000" stroke-width="1.4"/>
<line x1="215.89" y1="1.40" x2="215.89" y2="5.40" stroke="#000" stroke-width="1.4"/>
<line x1="222.31" y1="294.90" x2="222.31" y2="290.90" stroke="#000" stroke-width="1.4"/>
<line x1="222.31" y1="1.40" x2="222.31" y2="5.40" stroke="#000" stroke-width="1.4"/>
<line x1="228.17" y1="294.90" x2="228.17" y2="290.90" stroke="#000" stroke-width="1.4"/>
<line x1="228.17" y1="1.40" x2="228.17" y2="5.40" stroke="#000" stroke-width="1.4"/>
<line x1="300.95" y1="294.90" x2="300.95" y2="290.90" stroke="#000" stroke-width="1.4"/>
<line x1="300.95" y1="1.40" x2="300.95" y2="5.40" stroke="#000" stroke-width="1.4"/>
<line x1="340.28" y1="294.90" x2="340.28" y2="290.90" stroke="#000" stroke-width="1.4"/>
<line x1="340.28" y1="1.40" x2="340.28" y2="5.40" stroke="#000" stroke-width="1.4"/>
<line x1="355.77" y1="294.90" x2="355.77" y2="290.90" stroke="#000" stroke-width="1.4"/>
<line x1="355.77" y1="1.40" x2="355.77" y2="5.40" stroke="#000" stroke-width="1.4"/>
<line x1="381.92" y1="294.90" x2="381.92" y2="290.90" stroke="#000" stroke-width="1.4"/>
<line x1="381.92" y1="1.40" x2="381.92" y2="5.40" stroke="#000" stroke-width="1.4"/>
<line x1="393.26" y1="294.90" x2="393.26" y2="290.90" stroke="#000" stroke-width="1.4"/>
<line x1="393.26" y1="1.40" x2="393.26" y2="5.40" stroke="#000" stroke-width="1.4"/>
<rect x="76.5" y="28.4" width="27.2" height="8.2" fill="#93c8fb" stroke="#62acfb" stroke-width="1.3"/>
<clipPath id="cl1"><rect x="76.75" y="47.15" width="26.9" height="7.4"/></clipPath><clipPath id="cl2"><rect x="76.75" y="65.45" width="26.9" height="7.4"/></clipPath>
<g clip-path="url(#cl1)"><path d="M69.10 46L74.10 56M71.60 46L76.60 56M74.10 46L79.10 56M76.60 46L81.60 56M79.10 46L84.10 56M81.60 46L86.60 56M84.10 46L89.10 56M86.60 46L91.60 56M89.10 46L94.10 56M91.60 46L96.60 56M94.10 46L99.10 56M96.60 46L101.60 56M99.10 46L104.10 56M101.60 46L106.60 56M104.10 46L109.10 56M106.60 46L111.60 56M109.10 46L114.10 56M111.60 46L116.60 56" stroke="#dc5a5c" stroke-width="1.15" fill="none"/></g>
<rect x="76.75" y="47.15" width="26.9" height="7.4" fill="none" stroke="#dc666a" stroke-width="1.9"/>
<g clip-path="url(#cl2)"><path d="M69.70 74L74.70 64M72.20 74L77.20 64M74.70 74L79.70 64M77.20 74L82.20 64M79.70 74L84.70 64M82.20 74L87.20 64M84.70 74L89.70 64M87.20 74L92.20 64M89.70 74L94.70 64M92.20 74L97.20 64M94.70 74L99.70 64M97.20 74L102.20 64M99.70 74L104.70 64M102.20 74L107.20 64M104.70 74L109.70 64M107.20 74L112.20 64M109.70 74L114.70 64" stroke="#22a022" stroke-width="1.2" fill="none"/></g>
<rect x="76.75" y="65.45" width="26.9" height="7.4" fill="none" stroke="#22a022" stroke-width="1.9"/>
<rect x="76.4" y="83.5" width="27.4" height="7.9" fill="#fff" stroke="#f0a21c" stroke-width="1.3"/>
<text x="113.6" y="36.5" font-size="14.2" font-weight="bold" font-style="normal" text-anchor="start" textLength="38.6" lengthAdjust="spacingAndGlyphs" stroke="#fff" stroke-width="0.25" >CT18</text>
<text x="113.6" y="54.5" font-size="14.2" font-weight="bold" font-style="normal" text-anchor="start" textLength="127.5" lengthAdjust="spacingAndGlyphs" stroke="#fff" stroke-width="0.25" >CT18mJet&amp;Top8</text>
<text x="113.6" y="72.6" font-size="14.2" font-weight="bold" font-style="normal" text-anchor="start" textLength="127.5" lengthAdjust="spacingAndGlyphs" stroke="#fff" stroke-width="0.25" >CT18mJet&amp;Top8</text>
<path d="M242.1 69.1H253.1M247.6 63.599999999999994V74.6" stroke="#000" stroke-width="1.15" fill="none"/>
<text transform="translate(254.6,72.6) scale(1.2,1)" font-size="14.2" font-weight="bold" font-style="normal" stroke="#fff" stroke-width="0.25">n</text>
<text transform="translate(265.6,72.6) scale(1.16,1)" font-size="14.2" font-weight="bold" font-style="normal" textLength="31.90" lengthAdjust="spacing">TT1-</text>
<text transform="translate(302.4,72.6) scale(1.32,1)" font-size="14.2" font-weight="bold" font-style="italic">H</text>
<text transform="translate(318.0,75.19999999999999) scale(1.2,1)" font-size="9.8" font-weight="bold" font-style="italic">T</text>
<path d="M327.9 76.1L335.3 62.3" stroke="#000" stroke-width="1.25" fill="none"/>
<text transform="translate(336.6,72.6) scale(1.25,1)" font-size="14.2" font-weight="bold" font-style="normal">2</text>
<text x="113.6" y="90.4" font-size="14.2" font-weight="bold" font-style="normal" text-anchor="start" textLength="127.5" lengthAdjust="spacingAndGlyphs" stroke="#fff" stroke-width="0.25" >CT18mJet&amp;Top8</text>
<path d="M242.1 86.9H253.1M247.6 81.4V92.4" stroke="#000" stroke-width="1.15" fill="none"/>
<text transform="translate(254.6,90.4) scale(1.2,1)" font-size="14.2" font-weight="bold" font-style="normal" stroke="#fff" stroke-width="0.25">n</text>
<text transform="translate(265.6,90.4) scale(1.16,1)" font-size="14.2" font-weight="bold" font-style="normal" textLength="31.90" lengthAdjust="spacing">TT1-</text>
<text transform="translate(302.4,90.4) scale(1.32,1)" font-size="14.2" font-weight="bold" font-style="italic">H</text>
<text transform="translate(318.0,93.0) scale(1.2,1)" font-size="9.8" font-weight="bold" font-style="italic">T</text>
<path d="M327.9 93.9L335.3 80.10000000000001" stroke="#000" stroke-width="1.25" fill="none"/>
<text transform="translate(336.6,90.4) scale(1.25,1)" font-size="14.2" font-weight="bold" font-style="normal">4</text>
<text transform="translate(89.2,20.0) scale(1.2,1)" font-size="14.2" font-weight="bold" font-style="italic" stroke="#fff" stroke-width="0.3">g</text>
<text transform="translate(99.8,20.0) scale(1.0,1)" font-size="14.2" font-weight="bold" font-style="normal" stroke="#fff" stroke-width="0.3">(</text>
<text transform="translate(105.3,20.0) scale(1.3,1)" font-size="14.2" font-weight="bold" font-style="italic" stroke="#fff" stroke-width="0.3">x</text>
<text transform="translate(115.8,20.0) scale(1.0,1)" font-size="14.2" font-weight="bold" font-style="normal" stroke="#fff" stroke-width="0.2">,</text>
<text transform="translate(122.6,20.0) scale(1.15,1)" font-size="14.2" font-weight="bold" font-style="italic" stroke="#fff" stroke-width="0.3">Q</text>
<path d="M140.6 14.1H152.2M140.6 18H152.2" stroke="#000" stroke-width="1.1" fill="none"/>
<text x="158.2" y="20.2" font-size="14.2" font-weight="bold" font-style="normal" text-anchor="start" textLength="62.6" lengthAdjust="spacingAndGlyphs" stroke="#fff" stroke-width="0.25" >100GeV)</text>
<text x="226.2" y="20.2" font-size="14.2" font-weight="bold" font-style="normal" text-anchor="start" textLength="54" lengthAdjust="spacingAndGlyphs" stroke="#fff" stroke-width="0.25" >90%CL</text>
<text x="19.3" y="26.4" font-size="13.8" font-weight="bold" font-style="normal" text-anchor="start" textLength="29.6" lengthAdjust="spacingAndGlyphs" stroke="#fff" stroke-width="0.25" >1.30</text>
<text x="19.3" y="68.4" font-size="13.8" font-weight="bold" font-style="normal" text-anchor="start" textLength="29.6" lengthAdjust="spacingAndGlyphs" stroke="#fff" stroke-width="0.25" >1.20</text>
<text x="19.3" y="110.4" font-size="13.8" font-weight="bold" font-style="normal" text-anchor="start" textLength="29.6" lengthAdjust="spacingAndGlyphs" stroke="#fff" stroke-width="0.25" >1.10</text>
<text x="19.3" y="152.4" font-size="13.8" font-weight="bold" font-style="normal" text-anchor="start" textLength="29.6" lengthAdjust="spacingAndGlyphs" stroke="#fff" stroke-width="0.25" >1.00</text>
<text x="19.3" y="194.4" font-size="13.8" font-weight="bold" font-style="normal" text-anchor="start" textLength="29.6" lengthAdjust="spacingAndGlyphs" stroke="#fff" stroke-width="0.25" >0.90</text>
<text x="19.3" y="236.4" font-size="13.8" font-weight="bold" font-style="normal" text-anchor="start" textLength="29.6" lengthAdjust="spacingAndGlyphs" stroke="#fff" stroke-width="0.25" >0.80</text>
<text x="19.3" y="278.4" font-size="13.8" font-weight="bold" font-style="normal" text-anchor="start" textLength="29.6" lengthAdjust="spacingAndGlyphs" stroke="#fff" stroke-width="0.25" >0.70</text>
<text x="48.3" y="314.1" font-size="14.4" font-weight="normal" font-style="normal" text-anchor="start" textLength="15.8" lengthAdjust="spacingAndGlyphs" >10</text>
<text x="65.9" y="309.0" font-size="9.2" font-weight="bold" font-style="normal" text-anchor="start" textLength="14.4" lengthAdjust="spacingAndGlyphs" stroke="#fff" stroke-width="0.25" >−5</text>
<text x="84.0" y="314.1" font-size="14.4" font-weight="normal" font-style="normal" text-anchor="start" textLength="15.8" lengthAdjust="spacingAndGlyphs" >10</text>
<text x="101.6" y="309.0" font-size="9.2" font-weight="bold" font-style="normal" text-anchor="start" textLength="14.4" lengthAdjust="spacingAndGlyphs" stroke="#fff" stroke-width="0.25" >−3</text>
<text x="129.2" y="314.1" font-size="14.4" font-weight="normal" font-style="normal" text-anchor="start" textLength="15.8" lengthAdjust="spacingAndGlyphs" >10</text>
<text x="146.79999999999998" y="309.0" font-size="9.2" font-weight="bold" font-style="normal" text-anchor="start" textLength="14.4" lengthAdjust="spacingAndGlyphs" stroke="#fff" stroke-width="0.25" >−2</text>
<text x="217.29999999999998" y="314.1" font-size="14.4" font-weight="normal" font-style="normal" text-anchor="start" textLength="15.8" lengthAdjust="spacingAndGlyphs" >10</text>
<text x="234.89999999999998" y="309.0" font-size="9.2" font-weight="bold" font-style="normal" text-anchor="start" textLength="14.4" lengthAdjust="spacingAndGlyphs" stroke="#fff" stroke-width="0.25" >−1</text>
<text x="262.7" y="313.7" font-size="13.6" font-weight="bold" font-style="normal" text-anchor="start" textLength="21.6" lengthAdjust="spacingAndGlyphs" stroke="#fff" stroke-width="0.25" >0.2</text>
<text x="311.8" y="313.7" font-size="13.6" font-weight="bold" font-style="normal" text-anchor="start" textLength="21.6" lengthAdjust="spacingAndGlyphs" stroke="#fff" stroke-width="0.25" >0.4</text>
<text x="359.1" y="313.7" font-size="13.6" font-weight="bold" font-style="normal" text-anchor="start" textLength="20.5" lengthAdjust="spacingAndGlyphs" stroke="#fff" stroke-width="0.25" >0.7</text>
<text x="400.6" y="313.7" font-size="13.6" font-weight="bold" font-style="normal" text-anchor="start" textLength="5.4" lengthAdjust="spacingAndGlyphs" stroke="#fff" stroke-width="0.25" >1</text>
<text x="226.5" y="329.2" font-size="14.8" font-weight="bold" font-style="italic" text-anchor="start" textLength="9.2" lengthAdjust="spacingAndGlyphs" >x</text>
<text transform="translate(11.4,222.9) rotate(-90)" font-size="14.2" stroke="#fff" stroke-width="0.25" font-weight="bold" textLength="149" lengthAdjust="spacingAndGlyphs">PDF Ratio to CT18</text>
</svg>
</body></html>
